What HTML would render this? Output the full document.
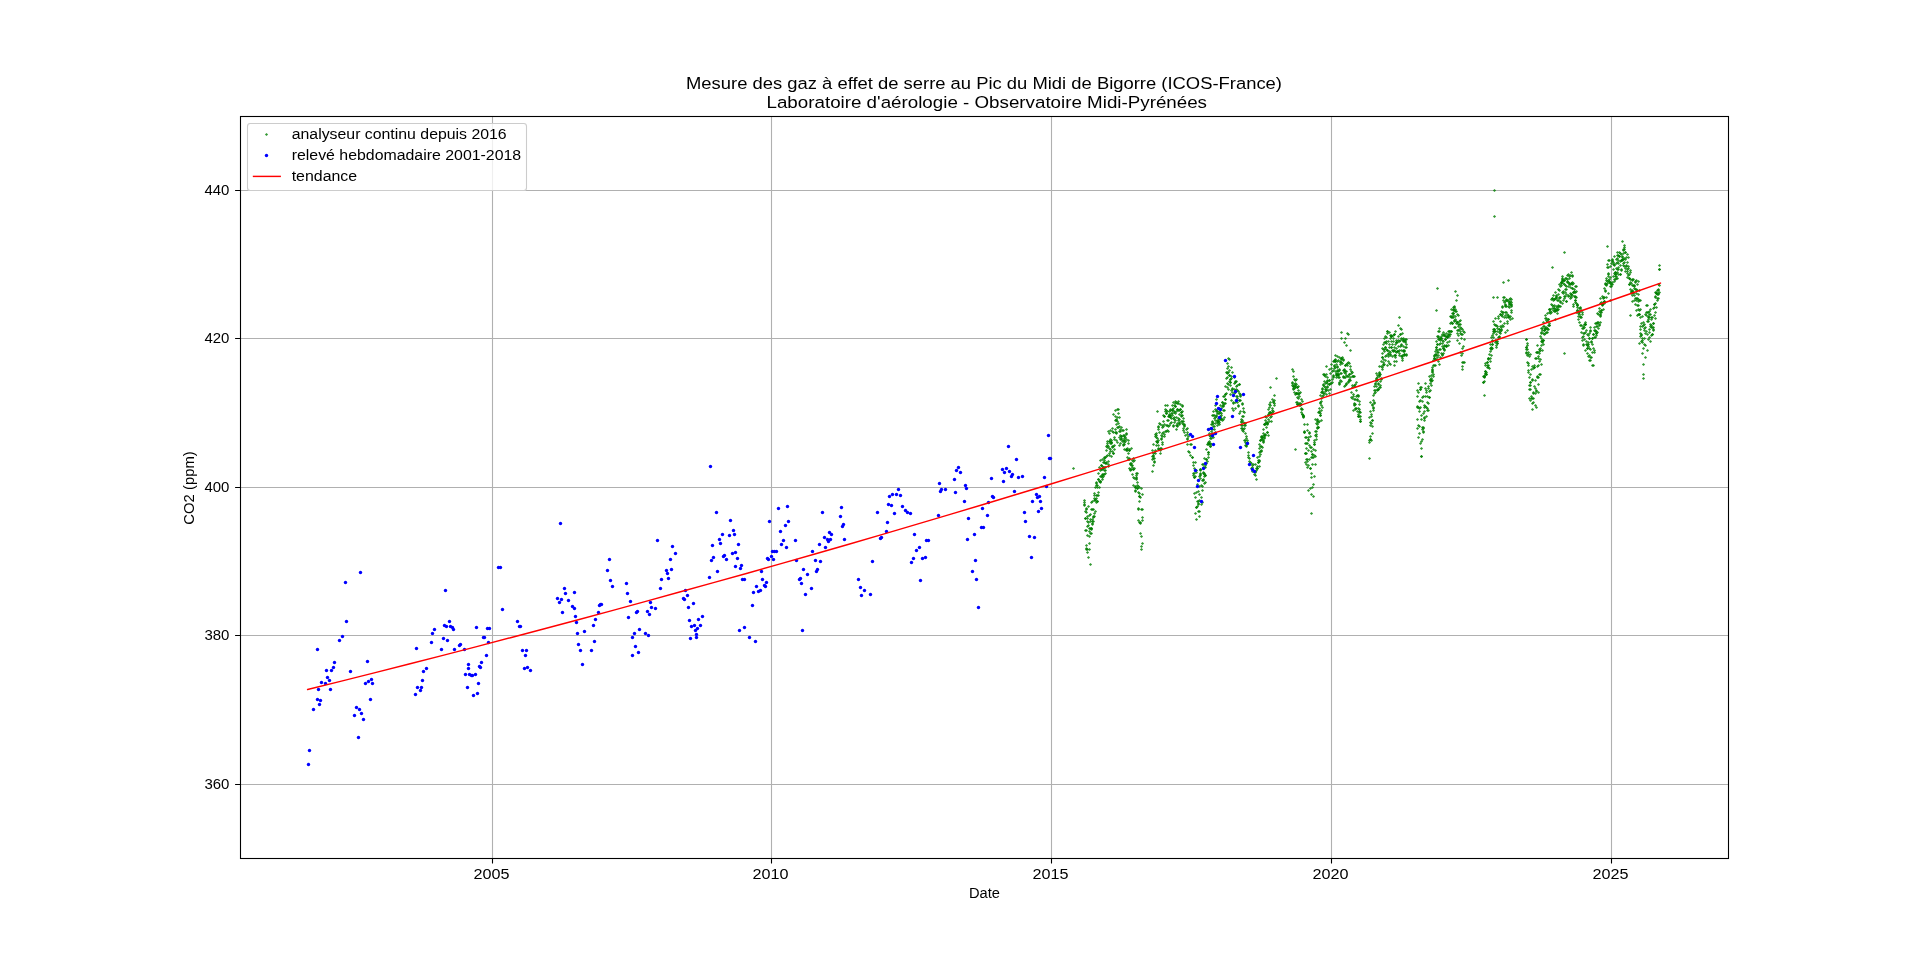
<!DOCTYPE html><html><head><meta charset="utf-8"><style>html,body{margin:0;padding:0;width:1920px;height:964px;overflow:hidden;background:#fff}</style></head><body><svg width="1920" height="964" viewBox="0 0 1920 964" style="position:absolute;left:0;top:0;will-change:transform"><rect width="1920" height="964" fill="#fff"/><path d="M492.5 116V858M771.5 116V858M1051.5 116V858M1331.5 116V858M1611.5 116V858M240 190.5H1728M240 338.5H1728M240 487.5H1728M240 635.5H1728M240 784.5H1728" stroke="#b0b0b0" stroke-width="1.1" fill="none"/><defs><path id="gm" d="M-1.6 0L0 -1.6L1.6 0L0 1.6Z"/></defs><g fill="#008000" fill-opacity="0.8"><use href="#gm" x="1084.5" y="500.5"/><use href="#gm" x="1084.5" y="502.5"/><use href="#gm" x="1084.5" y="504.5"/><use href="#gm" x="1084.5" y="505.5"/><use href="#gm" x="1085.5" y="511.5"/><use href="#gm" x="1085.5" y="518.5"/><use href="#gm" x="1085.5" y="530.5"/><use href="#gm" x="1085.5" y="518.5"/><use href="#gm" x="1086.5" y="509.5"/><use href="#gm" x="1086.5" y="508.5"/><use href="#gm" x="1086.5" y="530.5"/><use href="#gm" x="1086.5" y="512.5"/><use href="#gm" x="1086.5" y="549.5"/><use href="#gm" x="1086.5" y="548.5"/><use href="#gm" x="1087.5" y="549.5"/><use href="#gm" x="1087.5" y="535.5"/><use href="#gm" x="1087.5" y="526.5"/><use href="#gm" x="1087.5" y="521.5"/><use href="#gm" x="1087.5" y="518.5"/><use href="#gm" x="1087.5" y="516.5"/><use href="#gm" x="1088.5" y="525.5"/><use href="#gm" x="1088.5" y="506.5"/><use href="#gm" x="1088.5" y="522.5"/><use href="#gm" x="1089.5" y="543.5"/><use href="#gm" x="1089.5" y="536.5"/><use href="#gm" x="1089.5" y="515.5"/><use href="#gm" x="1089.5" y="531.5"/><use href="#gm" x="1089.5" y="528.5"/><use href="#gm" x="1090.5" y="533.5"/><use href="#gm" x="1090.5" y="521.5"/><use href="#gm" x="1090.5" y="514.5"/><use href="#gm" x="1090.5" y="519.5"/><use href="#gm" x="1090.5" y="528.5"/><use href="#gm" x="1091.5" y="529.5"/><use href="#gm" x="1091.5" y="502.5"/><use href="#gm" x="1091.5" y="509.5"/><use href="#gm" x="1091.5" y="533.5"/><use href="#gm" x="1091.5" y="528.5"/><use href="#gm" x="1091.5" y="528.5"/><use href="#gm" x="1092.5" y="521.5"/><use href="#gm" x="1092.5" y="523.5"/><use href="#gm" x="1092.5" y="501.5"/><use href="#gm" x="1092.5" y="519.5"/><use href="#gm" x="1092.5" y="524.5"/><use href="#gm" x="1092.5" y="509.5"/><use href="#gm" x="1093.5" y="517.5"/><use href="#gm" x="1093.5" y="516.5"/><use href="#gm" x="1093.5" y="509.5"/><use href="#gm" x="1093.5" y="521.5"/><use href="#gm" x="1094.5" y="500.5"/><use href="#gm" x="1094.5" y="516.5"/><use href="#gm" x="1094.5" y="498.5"/><use href="#gm" x="1094.5" y="513.5"/><use href="#gm" x="1094.5" y="495.5"/><use href="#gm" x="1094.5" y="493.5"/><use href="#gm" x="1095.5" y="511.5"/><use href="#gm" x="1095.5" y="499.5"/><use href="#gm" x="1095.5" y="500.5"/><use href="#gm" x="1095.5" y="487.5"/><use href="#gm" x="1096.5" y="495.5"/><use href="#gm" x="1096.5" y="502.5"/><use href="#gm" x="1096.5" y="482.5"/><use href="#gm" x="1096.5" y="483.5"/><use href="#gm" x="1096.5" y="498.5"/><use href="#gm" x="1096.5" y="485.5"/><use href="#gm" x="1097.5" y="501.5"/><use href="#gm" x="1097.5" y="487.5"/><use href="#gm" x="1097.5" y="485.5"/><use href="#gm" x="1097.5" y="495.5"/><use href="#gm" x="1097.5" y="501.5"/><use href="#gm" x="1098.5" y="495.5"/><use href="#gm" x="1098.5" y="492.5"/><use href="#gm" x="1098.5" y="479.5"/><use href="#gm" x="1098.5" y="473.5"/><use href="#gm" x="1098.5" y="479.5"/><use href="#gm" x="1099.5" y="487.5"/><use href="#gm" x="1099.5" y="481.5"/><use href="#gm" x="1099.5" y="467.5"/><use href="#gm" x="1100.5" y="476.5"/><use href="#gm" x="1100.5" y="470.5"/><use href="#gm" x="1100.5" y="481.5"/><use href="#gm" x="1100.5" y="481.5"/><use href="#gm" x="1100.5" y="482.5"/><use href="#gm" x="1100.5" y="460.5"/><use href="#gm" x="1101.5" y="465.5"/><use href="#gm" x="1101.5" y="465.5"/><use href="#gm" x="1101.5" y="469.5"/><use href="#gm" x="1101.5" y="476.5"/><use href="#gm" x="1102.5" y="475.5"/><use href="#gm" x="1102.5" y="459.5"/><use href="#gm" x="1102.5" y="466.5"/><use href="#gm" x="1102.5" y="477.5"/><use href="#gm" x="1102.5" y="474.5"/><use href="#gm" x="1102.5" y="479.5"/><use href="#gm" x="1102.5" y="469.5"/><use href="#gm" x="1103.5" y="476.5"/><use href="#gm" x="1103.5" y="467.5"/><use href="#gm" x="1103.5" y="462.5"/><use href="#gm" x="1103.5" y="468.5"/><use href="#gm" x="1103.5" y="474.5"/><use href="#gm" x="1104.5" y="470.5"/><use href="#gm" x="1104.5" y="458.5"/><use href="#gm" x="1104.5" y="474.5"/><use href="#gm" x="1104.5" y="462.5"/><use href="#gm" x="1104.5" y="457.5"/><use href="#gm" x="1104.5" y="460.5"/><use href="#gm" x="1104.5" y="467.5"/><use href="#gm" x="1105.5" y="473.5"/><use href="#gm" x="1105.5" y="463.5"/><use href="#gm" x="1105.5" y="470.5"/><use href="#gm" x="1105.5" y="457.5"/><use href="#gm" x="1105.5" y="467.5"/><use href="#gm" x="1106.5" y="450.5"/><use href="#gm" x="1106.5" y="462.5"/><use href="#gm" x="1106.5" y="463.5"/><use href="#gm" x="1106.5" y="446.5"/><use href="#gm" x="1106.5" y="456.5"/><use href="#gm" x="1107.5" y="447.5"/><use href="#gm" x="1107.5" y="441.5"/><use href="#gm" x="1107.5" y="443.5"/><use href="#gm" x="1107.5" y="455.5"/><use href="#gm" x="1107.5" y="445.5"/><use href="#gm" x="1108.5" y="466.5"/><use href="#gm" x="1108.5" y="461.5"/><use href="#gm" x="1108.5" y="431.5"/><use href="#gm" x="1108.5" y="464.5"/><use href="#gm" x="1108.5" y="446.5"/><use href="#gm" x="1109.5" y="455.5"/><use href="#gm" x="1109.5" y="453.5"/><use href="#gm" x="1109.5" y="441.5"/><use href="#gm" x="1109.5" y="441.5"/><use href="#gm" x="1109.5" y="448.5"/><use href="#gm" x="1109.5" y="433.5"/><use href="#gm" x="1110.5" y="451.5"/><use href="#gm" x="1110.5" y="449.5"/><use href="#gm" x="1110.5" y="443.5"/><use href="#gm" x="1110.5" y="439.5"/><use href="#gm" x="1110.5" y="430.5"/><use href="#gm" x="1111.5" y="443.5"/><use href="#gm" x="1111.5" y="456.5"/><use href="#gm" x="1111.5" y="440.5"/><use href="#gm" x="1111.5" y="442.5"/><use href="#gm" x="1111.5" y="442.5"/><use href="#gm" x="1112.5" y="446.5"/><use href="#gm" x="1112.5" y="447.5"/><use href="#gm" x="1112.5" y="428.5"/><use href="#gm" x="1112.5" y="451.5"/><use href="#gm" x="1112.5" y="431.5"/><use href="#gm" x="1113.5" y="432.5"/><use href="#gm" x="1113.5" y="453.5"/><use href="#gm" x="1113.5" y="453.5"/><use href="#gm" x="1113.5" y="414.5"/><use href="#gm" x="1113.5" y="446.5"/><use href="#gm" x="1114.5" y="445.5"/><use href="#gm" x="1114.5" y="449.5"/><use href="#gm" x="1114.5" y="437.5"/><use href="#gm" x="1114.5" y="439.5"/><use href="#gm" x="1115.5" y="429.5"/><use href="#gm" x="1115.5" y="420.5"/><use href="#gm" x="1115.5" y="432.5"/><use href="#gm" x="1115.5" y="416.5"/><use href="#gm" x="1115.5" y="410.5"/><use href="#gm" x="1116.5" y="440.5"/><use href="#gm" x="1116.5" y="433.5"/><use href="#gm" x="1116.5" y="420.5"/><use href="#gm" x="1116.5" y="432.5"/><use href="#gm" x="1116.5" y="419.5"/><use href="#gm" x="1116.5" y="424.5"/><use href="#gm" x="1117.5" y="427.5"/><use href="#gm" x="1117.5" y="421.5"/><use href="#gm" x="1117.5" y="417.5"/><use href="#gm" x="1117.5" y="442.5"/><use href="#gm" x="1117.5" y="409.5"/><use href="#gm" x="1118.5" y="427.5"/><use href="#gm" x="1118.5" y="423.5"/><use href="#gm" x="1118.5" y="413.5"/><use href="#gm" x="1118.5" y="409.5"/><use href="#gm" x="1119.5" y="431.5"/><use href="#gm" x="1119.5" y="426.5"/><use href="#gm" x="1119.5" y="437.5"/><use href="#gm" x="1119.5" y="417.5"/><use href="#gm" x="1119.5" y="445.5"/><use href="#gm" x="1120.5" y="431.5"/><use href="#gm" x="1120.5" y="439.5"/><use href="#gm" x="1120.5" y="443.5"/><use href="#gm" x="1120.5" y="435.5"/><use href="#gm" x="1120.5" y="429.5"/><use href="#gm" x="1121.5" y="427.5"/><use href="#gm" x="1121.5" y="436.5"/><use href="#gm" x="1121.5" y="439.5"/><use href="#gm" x="1121.5" y="436.5"/><use href="#gm" x="1121.5" y="438.5"/><use href="#gm" x="1122.5" y="430.5"/><use href="#gm" x="1122.5" y="441.5"/><use href="#gm" x="1123.5" y="430.5"/><use href="#gm" x="1123.5" y="440.5"/><use href="#gm" x="1123.5" y="444.5"/><use href="#gm" x="1123.5" y="445.5"/><use href="#gm" x="1123.5" y="435.5"/><use href="#gm" x="1124.5" y="442.5"/><use href="#gm" x="1124.5" y="438.5"/><use href="#gm" x="1124.5" y="435.5"/><use href="#gm" x="1124.5" y="436.5"/><use href="#gm" x="1124.5" y="440.5"/><use href="#gm" x="1124.5" y="449.5"/><use href="#gm" x="1124.5" y="444.5"/><use href="#gm" x="1125.5" y="441.5"/><use href="#gm" x="1125.5" y="437.5"/><use href="#gm" x="1126.5" y="429.5"/><use href="#gm" x="1126.5" y="434.5"/><use href="#gm" x="1126.5" y="450.5"/><use href="#gm" x="1126.5" y="433.5"/><use href="#gm" x="1126.5" y="449.5"/><use href="#gm" x="1126.5" y="439.5"/><use href="#gm" x="1126.5" y="449.5"/><use href="#gm" x="1127.5" y="448.5"/><use href="#gm" x="1127.5" y="450.5"/><use href="#gm" x="1127.5" y="457.5"/><use href="#gm" x="1128.5" y="443.5"/><use href="#gm" x="1128.5" y="440.5"/><use href="#gm" x="1128.5" y="459.5"/><use href="#gm" x="1128.5" y="453.5"/><use href="#gm" x="1129.5" y="458.5"/><use href="#gm" x="1129.5" y="459.5"/><use href="#gm" x="1129.5" y="450.5"/><use href="#gm" x="1129.5" y="449.5"/><use href="#gm" x="1129.5" y="450.5"/><use href="#gm" x="1129.5" y="468.5"/><use href="#gm" x="1130.5" y="463.5"/><use href="#gm" x="1130.5" y="470.5"/><use href="#gm" x="1130.5" y="469.5"/><use href="#gm" x="1130.5" y="464.5"/><use href="#gm" x="1131.5" y="469.5"/><use href="#gm" x="1131.5" y="448.5"/><use href="#gm" x="1131.5" y="463.5"/><use href="#gm" x="1131.5" y="465.5"/><use href="#gm" x="1132.5" y="467.5"/><use href="#gm" x="1132.5" y="474.5"/><use href="#gm" x="1132.5" y="460.5"/><use href="#gm" x="1132.5" y="465.5"/><use href="#gm" x="1133.5" y="485.5"/><use href="#gm" x="1133.5" y="477.5"/><use href="#gm" x="1133.5" y="461.5"/><use href="#gm" x="1133.5" y="469.5"/><use href="#gm" x="1133.5" y="458.5"/><use href="#gm" x="1133.5" y="469.5"/><use href="#gm" x="1134.5" y="468.5"/><use href="#gm" x="1134.5" y="460.5"/><use href="#gm" x="1134.5" y="478.5"/><use href="#gm" x="1135.5" y="487.5"/><use href="#gm" x="1135.5" y="491.5"/><use href="#gm" x="1135.5" y="486.5"/><use href="#gm" x="1135.5" y="490.5"/><use href="#gm" x="1135.5" y="487.5"/><use href="#gm" x="1136.5" y="478.5"/><use href="#gm" x="1136.5" y="475.5"/><use href="#gm" x="1136.5" y="477.5"/><use href="#gm" x="1136.5" y="473.5"/><use href="#gm" x="1136.5" y="479.5"/><use href="#gm" x="1137.5" y="473.5"/><use href="#gm" x="1137.5" y="488.5"/><use href="#gm" x="1137.5" y="488.5"/><use href="#gm" x="1137.5" y="482.5"/><use href="#gm" x="1137.5" y="485.5"/><use href="#gm" x="1138.5" y="508.5"/><use href="#gm" x="1138.5" y="509.5"/><use href="#gm" x="1138.5" y="520.5"/><use href="#gm" x="1138.5" y="492.5"/><use href="#gm" x="1138.5" y="486.5"/><use href="#gm" x="1139.5" y="487.5"/><use href="#gm" x="1139.5" y="493.5"/><use href="#gm" x="1139.5" y="496.5"/><use href="#gm" x="1139.5" y="496.5"/><use href="#gm" x="1139.5" y="522.5"/><use href="#gm" x="1139.5" y="501.5"/><use href="#gm" x="1140.5" y="523.5"/><use href="#gm" x="1140.5" y="522.5"/><use href="#gm" x="1140.5" y="533.5"/><use href="#gm" x="1140.5" y="497.5"/><use href="#gm" x="1141.5" y="509.5"/><use href="#gm" x="1141.5" y="488.5"/><use href="#gm" x="1141.5" y="546.5"/><use href="#gm" x="1141.5" y="549.5"/><use href="#gm" x="1141.5" y="536.5"/><use href="#gm" x="1142.5" y="517.5"/><use href="#gm" x="1142.5" y="520.5"/><use href="#gm" x="1142.5" y="494.5"/><use href="#gm" x="1142.5" y="509.5"/><use href="#gm" x="1142.5" y="543.5"/><use href="#gm" x="1152.5" y="459.5"/><use href="#gm" x="1152.5" y="456.5"/><use href="#gm" x="1152.5" y="471.5"/><use href="#gm" x="1152.5" y="450.5"/><use href="#gm" x="1153.5" y="465.5"/><use href="#gm" x="1153.5" y="458.5"/><use href="#gm" x="1153.5" y="456.5"/><use href="#gm" x="1153.5" y="453.5"/><use href="#gm" x="1153.5" y="455.5"/><use href="#gm" x="1153.5" y="444.5"/><use href="#gm" x="1154.5" y="461.5"/><use href="#gm" x="1154.5" y="458.5"/><use href="#gm" x="1154.5" y="462.5"/><use href="#gm" x="1154.5" y="452.5"/><use href="#gm" x="1155.5" y="453.5"/><use href="#gm" x="1155.5" y="436.5"/><use href="#gm" x="1155.5" y="450.5"/><use href="#gm" x="1155.5" y="434.5"/><use href="#gm" x="1156.5" y="437.5"/><use href="#gm" x="1156.5" y="433.5"/><use href="#gm" x="1156.5" y="435.5"/><use href="#gm" x="1156.5" y="441.5"/><use href="#gm" x="1156.5" y="445.5"/><use href="#gm" x="1157.5" y="438.5"/><use href="#gm" x="1157.5" y="441.5"/><use href="#gm" x="1157.5" y="442.5"/><use href="#gm" x="1157.5" y="442.5"/><use href="#gm" x="1158.5" y="440.5"/><use href="#gm" x="1158.5" y="426.5"/><use href="#gm" x="1158.5" y="427.5"/><use href="#gm" x="1158.5" y="429.5"/><use href="#gm" x="1158.5" y="445.5"/><use href="#gm" x="1158.5" y="449.5"/><use href="#gm" x="1158.5" y="448.5"/><use href="#gm" x="1159.5" y="449.5"/><use href="#gm" x="1159.5" y="423.5"/><use href="#gm" x="1159.5" y="432.5"/><use href="#gm" x="1160.5" y="450.5"/><use href="#gm" x="1160.5" y="424.5"/><use href="#gm" x="1160.5" y="453.5"/><use href="#gm" x="1160.5" y="448.5"/><use href="#gm" x="1161.5" y="439.5"/><use href="#gm" x="1161.5" y="435.5"/><use href="#gm" x="1161.5" y="438.5"/><use href="#gm" x="1161.5" y="448.5"/><use href="#gm" x="1162.5" y="425.5"/><use href="#gm" x="1162.5" y="427.5"/><use href="#gm" x="1162.5" y="433.5"/><use href="#gm" x="1162.5" y="442.5"/><use href="#gm" x="1162.5" y="444.5"/><use href="#gm" x="1162.5" y="436.5"/><use href="#gm" x="1163.5" y="426.5"/><use href="#gm" x="1163.5" y="415.5"/><use href="#gm" x="1163.5" y="432.5"/><use href="#gm" x="1163.5" y="421.5"/><use href="#gm" x="1164.5" y="416.5"/><use href="#gm" x="1164.5" y="424.5"/><use href="#gm" x="1164.5" y="416.5"/><use href="#gm" x="1164.5" y="436.5"/><use href="#gm" x="1164.5" y="434.5"/><use href="#gm" x="1165.5" y="411.5"/><use href="#gm" x="1165.5" y="405.5"/><use href="#gm" x="1165.5" y="409.5"/><use href="#gm" x="1165.5" y="431.5"/><use href="#gm" x="1166.5" y="410.5"/><use href="#gm" x="1166.5" y="425.5"/><use href="#gm" x="1166.5" y="431.5"/><use href="#gm" x="1166.5" y="413.5"/><use href="#gm" x="1166.5" y="413.5"/><use href="#gm" x="1167.5" y="430.5"/><use href="#gm" x="1167.5" y="405.5"/><use href="#gm" x="1167.5" y="425.5"/><use href="#gm" x="1167.5" y="411.5"/><use href="#gm" x="1167.5" y="420.5"/><use href="#gm" x="1168.5" y="431.5"/><use href="#gm" x="1168.5" y="420.5"/><use href="#gm" x="1168.5" y="426.5"/><use href="#gm" x="1168.5" y="416.5"/><use href="#gm" x="1169.5" y="425.5"/><use href="#gm" x="1169.5" y="416.5"/><use href="#gm" x="1169.5" y="411.5"/><use href="#gm" x="1169.5" y="416.5"/><use href="#gm" x="1169.5" y="415.5"/><use href="#gm" x="1169.5" y="414.5"/><use href="#gm" x="1170.5" y="417.5"/><use href="#gm" x="1170.5" y="423.5"/><use href="#gm" x="1170.5" y="410.5"/><use href="#gm" x="1170.5" y="415.5"/><use href="#gm" x="1170.5" y="409.5"/><use href="#gm" x="1170.5" y="416.5"/><use href="#gm" x="1171.5" y="418.5"/><use href="#gm" x="1171.5" y="413.5"/><use href="#gm" x="1171.5" y="422.5"/><use href="#gm" x="1172.5" y="410.5"/><use href="#gm" x="1172.5" y="410.5"/><use href="#gm" x="1172.5" y="415.5"/><use href="#gm" x="1172.5" y="405.5"/><use href="#gm" x="1172.5" y="409.5"/><use href="#gm" x="1172.5" y="413.5"/><use href="#gm" x="1173.5" y="402.5"/><use href="#gm" x="1173.5" y="426.5"/><use href="#gm" x="1173.5" y="425.5"/><use href="#gm" x="1173.5" y="408.5"/><use href="#gm" x="1173.5" y="418.5"/><use href="#gm" x="1174.5" y="417.5"/><use href="#gm" x="1174.5" y="412.5"/><use href="#gm" x="1174.5" y="405.5"/><use href="#gm" x="1174.5" y="422.5"/><use href="#gm" x="1174.5" y="419.5"/><use href="#gm" x="1174.5" y="411.5"/><use href="#gm" x="1175.5" y="413.5"/><use href="#gm" x="1175.5" y="403.5"/><use href="#gm" x="1175.5" y="406.5"/><use href="#gm" x="1175.5" y="420.5"/><use href="#gm" x="1175.5" y="406.5"/><use href="#gm" x="1175.5" y="401.5"/><use href="#gm" x="1176.5" y="417.5"/><use href="#gm" x="1176.5" y="402.5"/><use href="#gm" x="1176.5" y="411.5"/><use href="#gm" x="1176.5" y="429.5"/><use href="#gm" x="1176.5" y="425.5"/><use href="#gm" x="1177.5" y="425.5"/><use href="#gm" x="1177.5" y="423.5"/><use href="#gm" x="1177.5" y="426.5"/><use href="#gm" x="1177.5" y="409.5"/><use href="#gm" x="1177.5" y="403.5"/><use href="#gm" x="1177.5" y="409.5"/><use href="#gm" x="1178.5" y="403.5"/><use href="#gm" x="1178.5" y="401.5"/><use href="#gm" x="1178.5" y="410.5"/><use href="#gm" x="1178.5" y="420.5"/><use href="#gm" x="1178.5" y="418.5"/><use href="#gm" x="1179.5" y="414.5"/><use href="#gm" x="1179.5" y="422.5"/><use href="#gm" x="1179.5" y="424.5"/><use href="#gm" x="1179.5" y="410.5"/><use href="#gm" x="1179.5" y="423.5"/><use href="#gm" x="1179.5" y="419.5"/><use href="#gm" x="1180.5" y="404.5"/><use href="#gm" x="1180.5" y="409.5"/><use href="#gm" x="1180.5" y="409.5"/><use href="#gm" x="1181.5" y="412.5"/><use href="#gm" x="1181.5" y="412.5"/><use href="#gm" x="1181.5" y="421.5"/><use href="#gm" x="1181.5" y="416.5"/><use href="#gm" x="1181.5" y="415.5"/><use href="#gm" x="1182.5" y="421.5"/><use href="#gm" x="1182.5" y="406.5"/><use href="#gm" x="1182.5" y="405.5"/><use href="#gm" x="1182.5" y="423.5"/><use href="#gm" x="1182.5" y="411.5"/><use href="#gm" x="1182.5" y="415.5"/><use href="#gm" x="1183.5" y="418.5"/><use href="#gm" x="1183.5" y="421.5"/><use href="#gm" x="1183.5" y="430.5"/><use href="#gm" x="1183.5" y="428.5"/><use href="#gm" x="1183.5" y="424.5"/><use href="#gm" x="1184.5" y="432.5"/><use href="#gm" x="1184.5" y="424.5"/><use href="#gm" x="1184.5" y="426.5"/><use href="#gm" x="1184.5" y="425.5"/><use href="#gm" x="1185.5" y="435.5"/><use href="#gm" x="1186.5" y="429.5"/><use href="#gm" x="1187.5" y="438.5"/><use href="#gm" x="1187.5" y="444.5"/><use href="#gm" x="1187.5" y="432.5"/><use href="#gm" x="1187.5" y="428.5"/><use href="#gm" x="1187.5" y="439.5"/><use href="#gm" x="1187.5" y="434.5"/><use href="#gm" x="1188.5" y="451.5"/><use href="#gm" x="1188.5" y="436.5"/><use href="#gm" x="1189.5" y="452.5"/><use href="#gm" x="1190.5" y="455.5"/><use href="#gm" x="1190.5" y="444.5"/><use href="#gm" x="1191.5" y="444.5"/><use href="#gm" x="1192.5" y="457.5"/><use href="#gm" x="1192.5" y="457.5"/><use href="#gm" x="1193.5" y="473.5"/><use href="#gm" x="1193.5" y="475.5"/><use href="#gm" x="1193.5" y="465.5"/><use href="#gm" x="1193.5" y="462.5"/><use href="#gm" x="1194.5" y="473.5"/><use href="#gm" x="1194.5" y="468.5"/><use href="#gm" x="1194.5" y="493.5"/><use href="#gm" x="1194.5" y="477.5"/><use href="#gm" x="1194.5" y="477.5"/><use href="#gm" x="1195.5" y="462.5"/><use href="#gm" x="1195.5" y="476.5"/><use href="#gm" x="1195.5" y="497.5"/><use href="#gm" x="1195.5" y="513.5"/><use href="#gm" x="1196.5" y="507.5"/><use href="#gm" x="1196.5" y="492.5"/><use href="#gm" x="1196.5" y="519.5"/><use href="#gm" x="1196.5" y="472.5"/><use href="#gm" x="1196.5" y="507.5"/><use href="#gm" x="1196.5" y="470.5"/><use href="#gm" x="1197.5" y="501.5"/><use href="#gm" x="1197.5" y="484.5"/><use href="#gm" x="1197.5" y="506.5"/><use href="#gm" x="1198.5" y="511.5"/><use href="#gm" x="1198.5" y="491.5"/><use href="#gm" x="1198.5" y="501.5"/><use href="#gm" x="1198.5" y="503.5"/><use href="#gm" x="1198.5" y="480.5"/><use href="#gm" x="1198.5" y="504.5"/><use href="#gm" x="1199.5" y="516.5"/><use href="#gm" x="1199.5" y="500.5"/><use href="#gm" x="1199.5" y="486.5"/><use href="#gm" x="1199.5" y="494.5"/><use href="#gm" x="1199.5" y="511.5"/><use href="#gm" x="1199.5" y="476.5"/><use href="#gm" x="1200.5" y="474.5"/><use href="#gm" x="1200.5" y="473.5"/><use href="#gm" x="1200.5" y="470.5"/><use href="#gm" x="1200.5" y="478.5"/><use href="#gm" x="1200.5" y="469.5"/><use href="#gm" x="1200.5" y="469.5"/><use href="#gm" x="1200.5" y="475.5"/><use href="#gm" x="1201.5" y="485.5"/><use href="#gm" x="1201.5" y="504.5"/><use href="#gm" x="1201.5" y="497.5"/><use href="#gm" x="1202.5" y="490.5"/><use href="#gm" x="1202.5" y="480.5"/><use href="#gm" x="1202.5" y="502.5"/><use href="#gm" x="1202.5" y="464.5"/><use href="#gm" x="1202.5" y="486.5"/><use href="#gm" x="1203.5" y="479.5"/><use href="#gm" x="1203.5" y="480.5"/><use href="#gm" x="1203.5" y="467.5"/><use href="#gm" x="1203.5" y="473.5"/><use href="#gm" x="1203.5" y="472.5"/><use href="#gm" x="1203.5" y="464.5"/><use href="#gm" x="1204.5" y="473.5"/><use href="#gm" x="1204.5" y="476.5"/><use href="#gm" x="1204.5" y="467.5"/><use href="#gm" x="1204.5" y="483.5"/><use href="#gm" x="1204.5" y="474.5"/><use href="#gm" x="1204.5" y="458.5"/><use href="#gm" x="1205.5" y="475.5"/><use href="#gm" x="1205.5" y="482.5"/><use href="#gm" x="1205.5" y="465.5"/><use href="#gm" x="1205.5" y="475.5"/><use href="#gm" x="1205.5" y="467.5"/><use href="#gm" x="1206.5" y="459.5"/><use href="#gm" x="1206.5" y="459.5"/><use href="#gm" x="1206.5" y="449.5"/><use href="#gm" x="1206.5" y="463.5"/><use href="#gm" x="1207.5" y="444.5"/><use href="#gm" x="1207.5" y="461.5"/><use href="#gm" x="1208.5" y="457.5"/><use href="#gm" x="1208.5" y="444.5"/><use href="#gm" x="1208.5" y="452.5"/><use href="#gm" x="1208.5" y="454.5"/><use href="#gm" x="1208.5" y="452.5"/><use href="#gm" x="1208.5" y="443.5"/><use href="#gm" x="1208.5" y="442.5"/><use href="#gm" x="1209.5" y="443.5"/><use href="#gm" x="1209.5" y="435.5"/><use href="#gm" x="1209.5" y="441.5"/><use href="#gm" x="1209.5" y="433.5"/><use href="#gm" x="1209.5" y="444.5"/><use href="#gm" x="1210.5" y="446.5"/><use href="#gm" x="1210.5" y="446.5"/><use href="#gm" x="1210.5" y="443.5"/><use href="#gm" x="1210.5" y="428.5"/><use href="#gm" x="1210.5" y="428.5"/><use href="#gm" x="1210.5" y="436.5"/><use href="#gm" x="1210.5" y="438.5"/><use href="#gm" x="1211.5" y="444.5"/><use href="#gm" x="1211.5" y="424.5"/><use href="#gm" x="1211.5" y="431.5"/><use href="#gm" x="1211.5" y="438.5"/><use href="#gm" x="1211.5" y="435.5"/><use href="#gm" x="1212.5" y="429.5"/><use href="#gm" x="1212.5" y="415.5"/><use href="#gm" x="1212.5" y="421.5"/><use href="#gm" x="1212.5" y="424.5"/><use href="#gm" x="1212.5" y="422.5"/><use href="#gm" x="1212.5" y="436.5"/><use href="#gm" x="1212.5" y="433.5"/><use href="#gm" x="1213.5" y="437.5"/><use href="#gm" x="1213.5" y="415.5"/><use href="#gm" x="1213.5" y="423.5"/><use href="#gm" x="1213.5" y="434.5"/><use href="#gm" x="1213.5" y="411.5"/><use href="#gm" x="1213.5" y="426.5"/><use href="#gm" x="1214.5" y="429.5"/><use href="#gm" x="1214.5" y="426.5"/><use href="#gm" x="1214.5" y="415.5"/><use href="#gm" x="1214.5" y="418.5"/><use href="#gm" x="1215.5" y="420.5"/><use href="#gm" x="1215.5" y="423.5"/><use href="#gm" x="1215.5" y="432.5"/><use href="#gm" x="1215.5" y="405.5"/><use href="#gm" x="1215.5" y="417.5"/><use href="#gm" x="1215.5" y="409.5"/><use href="#gm" x="1216.5" y="416.5"/><use href="#gm" x="1216.5" y="399.5"/><use href="#gm" x="1216.5" y="410.5"/><use href="#gm" x="1216.5" y="415.5"/><use href="#gm" x="1216.5" y="411.5"/><use href="#gm" x="1217.5" y="425.5"/><use href="#gm" x="1217.5" y="411.5"/><use href="#gm" x="1217.5" y="422.5"/><use href="#gm" x="1217.5" y="420.5"/><use href="#gm" x="1217.5" y="421.5"/><use href="#gm" x="1217.5" y="413.5"/><use href="#gm" x="1218.5" y="413.5"/><use href="#gm" x="1218.5" y="423.5"/><use href="#gm" x="1218.5" y="408.5"/><use href="#gm" x="1218.5" y="421.5"/><use href="#gm" x="1218.5" y="418.5"/><use href="#gm" x="1218.5" y="421.5"/><use href="#gm" x="1219.5" y="422.5"/><use href="#gm" x="1219.5" y="424.5"/><use href="#gm" x="1219.5" y="408.5"/><use href="#gm" x="1219.5" y="413.5"/><use href="#gm" x="1219.5" y="419.5"/><use href="#gm" x="1219.5" y="411.5"/><use href="#gm" x="1220.5" y="418.5"/><use href="#gm" x="1220.5" y="419.5"/><use href="#gm" x="1220.5" y="405.5"/><use href="#gm" x="1220.5" y="412.5"/><use href="#gm" x="1220.5" y="416.5"/><use href="#gm" x="1220.5" y="418.5"/><use href="#gm" x="1221.5" y="415.5"/><use href="#gm" x="1221.5" y="419.5"/><use href="#gm" x="1221.5" y="418.5"/><use href="#gm" x="1221.5" y="413.5"/><use href="#gm" x="1221.5" y="408.5"/><use href="#gm" x="1222.5" y="402.5"/><use href="#gm" x="1222.5" y="420.5"/><use href="#gm" x="1222.5" y="402.5"/><use href="#gm" x="1222.5" y="406.5"/><use href="#gm" x="1223.5" y="405.5"/><use href="#gm" x="1223.5" y="406.5"/><use href="#gm" x="1223.5" y="410.5"/><use href="#gm" x="1223.5" y="396.5"/><use href="#gm" x="1223.5" y="404.5"/><use href="#gm" x="1223.5" y="419.5"/><use href="#gm" x="1224.5" y="403.5"/><use href="#gm" x="1224.5" y="417.5"/><use href="#gm" x="1224.5" y="410.5"/><use href="#gm" x="1224.5" y="396.5"/><use href="#gm" x="1225.5" y="394.5"/><use href="#gm" x="1225.5" y="386.5"/><use href="#gm" x="1225.5" y="403.5"/><use href="#gm" x="1225.5" y="399.5"/><use href="#gm" x="1225.5" y="394.5"/><use href="#gm" x="1225.5" y="399.5"/><use href="#gm" x="1226.5" y="378.5"/><use href="#gm" x="1226.5" y="372.5"/><use href="#gm" x="1226.5" y="393.5"/><use href="#gm" x="1227.5" y="387.5"/><use href="#gm" x="1227.5" y="373.5"/><use href="#gm" x="1227.5" y="383.5"/><use href="#gm" x="1227.5" y="368.5"/><use href="#gm" x="1227.5" y="363.5"/><use href="#gm" x="1227.5" y="377.5"/><use href="#gm" x="1227.5" y="372.5"/><use href="#gm" x="1228.5" y="366.5"/><use href="#gm" x="1228.5" y="389.5"/><use href="#gm" x="1228.5" y="384.5"/><use href="#gm" x="1228.5" y="358.5"/><use href="#gm" x="1228.5" y="372.5"/><use href="#gm" x="1229.5" y="370.5"/><use href="#gm" x="1229.5" y="375.5"/><use href="#gm" x="1229.5" y="359.5"/><use href="#gm" x="1229.5" y="375.5"/><use href="#gm" x="1229.5" y="381.5"/><use href="#gm" x="1230.5" y="379.5"/><use href="#gm" x="1230.5" y="385.5"/><use href="#gm" x="1230.5" y="382.5"/><use href="#gm" x="1230.5" y="382.5"/><use href="#gm" x="1230.5" y="379.5"/><use href="#gm" x="1230.5" y="394.5"/><use href="#gm" x="1231.5" y="367.5"/><use href="#gm" x="1231.5" y="390.5"/><use href="#gm" x="1231.5" y="378.5"/><use href="#gm" x="1231.5" y="400.5"/><use href="#gm" x="1231.5" y="376.5"/><use href="#gm" x="1232.5" y="392.5"/><use href="#gm" x="1232.5" y="389.5"/><use href="#gm" x="1232.5" y="372.5"/><use href="#gm" x="1232.5" y="408.5"/><use href="#gm" x="1232.5" y="388.5"/><use href="#gm" x="1233.5" y="403.5"/><use href="#gm" x="1233.5" y="395.5"/><use href="#gm" x="1233.5" y="402.5"/><use href="#gm" x="1233.5" y="410.5"/><use href="#gm" x="1234.5" y="377.5"/><use href="#gm" x="1234.5" y="393.5"/><use href="#gm" x="1234.5" y="389.5"/><use href="#gm" x="1234.5" y="383.5"/><use href="#gm" x="1235.5" y="381.5"/><use href="#gm" x="1235.5" y="402.5"/><use href="#gm" x="1235.5" y="408.5"/><use href="#gm" x="1235.5" y="391.5"/><use href="#gm" x="1235.5" y="382.5"/><use href="#gm" x="1235.5" y="392.5"/><use href="#gm" x="1236.5" y="389.5"/><use href="#gm" x="1236.5" y="381.5"/><use href="#gm" x="1236.5" y="386.5"/><use href="#gm" x="1236.5" y="396.5"/><use href="#gm" x="1237.5" y="398.5"/><use href="#gm" x="1237.5" y="402.5"/><use href="#gm" x="1237.5" y="390.5"/><use href="#gm" x="1237.5" y="385.5"/><use href="#gm" x="1237.5" y="396.5"/><use href="#gm" x="1238.5" y="391.5"/><use href="#gm" x="1238.5" y="406.5"/><use href="#gm" x="1238.5" y="405.5"/><use href="#gm" x="1239.5" y="384.5"/><use href="#gm" x="1239.5" y="413.5"/><use href="#gm" x="1239.5" y="384.5"/><use href="#gm" x="1239.5" y="400.5"/><use href="#gm" x="1239.5" y="393.5"/><use href="#gm" x="1239.5" y="400.5"/><use href="#gm" x="1240.5" y="395.5"/><use href="#gm" x="1240.5" y="396.5"/><use href="#gm" x="1240.5" y="394.5"/><use href="#gm" x="1240.5" y="411.5"/><use href="#gm" x="1240.5" y="400.5"/><use href="#gm" x="1241.5" y="421.5"/><use href="#gm" x="1241.5" y="422.5"/><use href="#gm" x="1241.5" y="425.5"/><use href="#gm" x="1241.5" y="428.5"/><use href="#gm" x="1241.5" y="419.5"/><use href="#gm" x="1242.5" y="425.5"/><use href="#gm" x="1242.5" y="428.5"/><use href="#gm" x="1242.5" y="403.5"/><use href="#gm" x="1242.5" y="416.5"/><use href="#gm" x="1242.5" y="430.5"/><use href="#gm" x="1242.5" y="420.5"/><use href="#gm" x="1242.5" y="404.5"/><use href="#gm" x="1243.5" y="416.5"/><use href="#gm" x="1243.5" y="422.5"/><use href="#gm" x="1243.5" y="429.5"/><use href="#gm" x="1243.5" y="431.5"/><use href="#gm" x="1243.5" y="408.5"/><use href="#gm" x="1243.5" y="411.5"/><use href="#gm" x="1244.5" y="428.5"/><use href="#gm" x="1244.5" y="423.5"/><use href="#gm" x="1244.5" y="425.5"/><use href="#gm" x="1244.5" y="412.5"/><use href="#gm" x="1244.5" y="440.5"/><use href="#gm" x="1245.5" y="433.5"/><use href="#gm" x="1245.5" y="423.5"/><use href="#gm" x="1245.5" y="440.5"/><use href="#gm" x="1245.5" y="425.5"/><use href="#gm" x="1245.5" y="445.5"/><use href="#gm" x="1245.5" y="442.5"/><use href="#gm" x="1246.5" y="446.5"/><use href="#gm" x="1246.5" y="443.5"/><use href="#gm" x="1246.5" y="445.5"/><use href="#gm" x="1246.5" y="436.5"/><use href="#gm" x="1246.5" y="438.5"/><use href="#gm" x="1247.5" y="440.5"/><use href="#gm" x="1247.5" y="443.5"/><use href="#gm" x="1247.5" y="442.5"/><use href="#gm" x="1248.5" y="452.5"/><use href="#gm" x="1248.5" y="457.5"/><use href="#gm" x="1248.5" y="455.5"/><use href="#gm" x="1249.5" y="458.5"/><use href="#gm" x="1249.5" y="461.5"/><use href="#gm" x="1250.5" y="462.5"/><use href="#gm" x="1251.5" y="463.5"/><use href="#gm" x="1251.5" y="468.5"/><use href="#gm" x="1252.5" y="471.5"/><use href="#gm" x="1252.5" y="465.5"/><use href="#gm" x="1252.5" y="469.5"/><use href="#gm" x="1252.5" y="467.5"/><use href="#gm" x="1253.5" y="464.5"/><use href="#gm" x="1254.5" y="474.5"/><use href="#gm" x="1254.5" y="471.5"/><use href="#gm" x="1255.5" y="472.5"/><use href="#gm" x="1255.5" y="471.5"/><use href="#gm" x="1255.5" y="475.5"/><use href="#gm" x="1255.5" y="464.5"/><use href="#gm" x="1256.5" y="479.5"/><use href="#gm" x="1256.5" y="468.5"/><use href="#gm" x="1256.5" y="470.5"/><use href="#gm" x="1257.5" y="468.5"/><use href="#gm" x="1257.5" y="468.5"/><use href="#gm" x="1257.5" y="466.5"/><use href="#gm" x="1257.5" y="457.5"/><use href="#gm" x="1258.5" y="460.5"/><use href="#gm" x="1258.5" y="462.5"/><use href="#gm" x="1258.5" y="462.5"/><use href="#gm" x="1259.5" y="452.5"/><use href="#gm" x="1259.5" y="466.5"/><use href="#gm" x="1259.5" y="461.5"/><use href="#gm" x="1259.5" y="456.5"/><use href="#gm" x="1259.5" y="460.5"/><use href="#gm" x="1259.5" y="444.5"/><use href="#gm" x="1259.5" y="448.5"/><use href="#gm" x="1260.5" y="440.5"/><use href="#gm" x="1260.5" y="451.5"/><use href="#gm" x="1260.5" y="440.5"/><use href="#gm" x="1260.5" y="446.5"/><use href="#gm" x="1260.5" y="454.5"/><use href="#gm" x="1261.5" y="451.5"/><use href="#gm" x="1261.5" y="437.5"/><use href="#gm" x="1261.5" y="450.5"/><use href="#gm" x="1261.5" y="439.5"/><use href="#gm" x="1261.5" y="446.5"/><use href="#gm" x="1261.5" y="436.5"/><use href="#gm" x="1262.5" y="437.5"/><use href="#gm" x="1262.5" y="436.5"/><use href="#gm" x="1262.5" y="437.5"/><use href="#gm" x="1262.5" y="447.5"/><use href="#gm" x="1262.5" y="439.5"/><use href="#gm" x="1263.5" y="429.5"/><use href="#gm" x="1263.5" y="441.5"/><use href="#gm" x="1263.5" y="440.5"/><use href="#gm" x="1263.5" y="442.5"/><use href="#gm" x="1263.5" y="433.5"/><use href="#gm" x="1264.5" y="435.5"/><use href="#gm" x="1264.5" y="435.5"/><use href="#gm" x="1264.5" y="424.5"/><use href="#gm" x="1264.5" y="424.5"/><use href="#gm" x="1264.5" y="437.5"/><use href="#gm" x="1264.5" y="438.5"/><use href="#gm" x="1265.5" y="434.5"/><use href="#gm" x="1265.5" y="416.5"/><use href="#gm" x="1265.5" y="423.5"/><use href="#gm" x="1265.5" y="420.5"/><use href="#gm" x="1265.5" y="424.5"/><use href="#gm" x="1265.5" y="435.5"/><use href="#gm" x="1266.5" y="427.5"/><use href="#gm" x="1266.5" y="417.5"/><use href="#gm" x="1266.5" y="422.5"/><use href="#gm" x="1267.5" y="432.5"/><use href="#gm" x="1267.5" y="432.5"/><use href="#gm" x="1267.5" y="423.5"/><use href="#gm" x="1267.5" y="422.5"/><use href="#gm" x="1267.5" y="424.5"/><use href="#gm" x="1267.5" y="423.5"/><use href="#gm" x="1268.5" y="415.5"/><use href="#gm" x="1268.5" y="419.5"/><use href="#gm" x="1268.5" y="435.5"/><use href="#gm" x="1268.5" y="414.5"/><use href="#gm" x="1268.5" y="409.5"/><use href="#gm" x="1269.5" y="412.5"/><use href="#gm" x="1269.5" y="421.5"/><use href="#gm" x="1269.5" y="413.5"/><use href="#gm" x="1269.5" y="407.5"/><use href="#gm" x="1269.5" y="404.5"/><use href="#gm" x="1270.5" y="405.5"/><use href="#gm" x="1270.5" y="402.5"/><use href="#gm" x="1270.5" y="412.5"/><use href="#gm" x="1270.5" y="412.5"/><use href="#gm" x="1270.5" y="417.5"/><use href="#gm" x="1271.5" y="421.5"/><use href="#gm" x="1271.5" y="416.5"/><use href="#gm" x="1271.5" y="413.5"/><use href="#gm" x="1272.5" y="408.5"/><use href="#gm" x="1272.5" y="399.5"/><use href="#gm" x="1272.5" y="412.5"/><use href="#gm" x="1272.5" y="410.5"/><use href="#gm" x="1273.5" y="401.5"/><use href="#gm" x="1273.5" y="402.5"/><use href="#gm" x="1273.5" y="411.5"/><use href="#gm" x="1274.5" y="395.5"/><use href="#gm" x="1274.5" y="400.5"/><use href="#gm" x="1274.5" y="405.5"/><use href="#gm" x="1274.5" y="403.5"/><use href="#gm" x="1292.5" y="383.5"/><use href="#gm" x="1292.5" y="369.5"/><use href="#gm" x="1292.5" y="385.5"/><use href="#gm" x="1292.5" y="382.5"/><use href="#gm" x="1293.5" y="371.5"/><use href="#gm" x="1293.5" y="386.5"/><use href="#gm" x="1293.5" y="388.5"/><use href="#gm" x="1293.5" y="376.5"/><use href="#gm" x="1293.5" y="389.5"/><use href="#gm" x="1293.5" y="386.5"/><use href="#gm" x="1294.5" y="384.5"/><use href="#gm" x="1294.5" y="392.5"/><use href="#gm" x="1294.5" y="379.5"/><use href="#gm" x="1294.5" y="388.5"/><use href="#gm" x="1295.5" y="385.5"/><use href="#gm" x="1295.5" y="386.5"/><use href="#gm" x="1295.5" y="394.5"/><use href="#gm" x="1295.5" y="380.5"/><use href="#gm" x="1295.5" y="383.5"/><use href="#gm" x="1295.5" y="387.5"/><use href="#gm" x="1296.5" y="384.5"/><use href="#gm" x="1296.5" y="393.5"/><use href="#gm" x="1296.5" y="379.5"/><use href="#gm" x="1296.5" y="402.5"/><use href="#gm" x="1296.5" y="393.5"/><use href="#gm" x="1296.5" y="393.5"/><use href="#gm" x="1297.5" y="387.5"/><use href="#gm" x="1297.5" y="404.5"/><use href="#gm" x="1297.5" y="387.5"/><use href="#gm" x="1297.5" y="393.5"/><use href="#gm" x="1297.5" y="397.5"/><use href="#gm" x="1297.5" y="402.5"/><use href="#gm" x="1297.5" y="404.5"/><use href="#gm" x="1298.5" y="390.5"/><use href="#gm" x="1298.5" y="404.5"/><use href="#gm" x="1298.5" y="393.5"/><use href="#gm" x="1298.5" y="394.5"/><use href="#gm" x="1298.5" y="386.5"/><use href="#gm" x="1298.5" y="398.5"/><use href="#gm" x="1299.5" y="403.5"/><use href="#gm" x="1299.5" y="393.5"/><use href="#gm" x="1299.5" y="396.5"/><use href="#gm" x="1299.5" y="405.5"/><use href="#gm" x="1300.5" y="405.5"/><use href="#gm" x="1300.5" y="403.5"/><use href="#gm" x="1300.5" y="392.5"/><use href="#gm" x="1301.5" y="412.5"/><use href="#gm" x="1301.5" y="399.5"/><use href="#gm" x="1301.5" y="409.5"/><use href="#gm" x="1301.5" y="408.5"/><use href="#gm" x="1301.5" y="404.5"/><use href="#gm" x="1302.5" y="401.5"/><use href="#gm" x="1302.5" y="414.5"/><use href="#gm" x="1302.5" y="414.5"/><use href="#gm" x="1302.5" y="409.5"/><use href="#gm" x="1303.5" y="415.5"/><use href="#gm" x="1303.5" y="416.5"/><use href="#gm" x="1303.5" y="416.5"/><use href="#gm" x="1303.5" y="417.5"/><use href="#gm" x="1303.5" y="416.5"/><use href="#gm" x="1304.5" y="432.5"/><use href="#gm" x="1304.5" y="424.5"/><use href="#gm" x="1304.5" y="432.5"/><use href="#gm" x="1304.5" y="431.5"/><use href="#gm" x="1305.5" y="443.5"/><use href="#gm" x="1305.5" y="437.5"/><use href="#gm" x="1305.5" y="453.5"/><use href="#gm" x="1305.5" y="453.5"/><use href="#gm" x="1305.5" y="462.5"/><use href="#gm" x="1306.5" y="459.5"/><use href="#gm" x="1306.5" y="437.5"/><use href="#gm" x="1306.5" y="448.5"/><use href="#gm" x="1306.5" y="464.5"/><use href="#gm" x="1306.5" y="453.5"/><use href="#gm" x="1306.5" y="443.5"/><use href="#gm" x="1307.5" y="424.5"/><use href="#gm" x="1307.5" y="459.5"/><use href="#gm" x="1307.5" y="443.5"/><use href="#gm" x="1307.5" y="430.5"/><use href="#gm" x="1307.5" y="461.5"/><use href="#gm" x="1307.5" y="467.5"/><use href="#gm" x="1308.5" y="490.5"/><use href="#gm" x="1308.5" y="439.5"/><use href="#gm" x="1308.5" y="437.5"/><use href="#gm" x="1308.5" y="450.5"/><use href="#gm" x="1308.5" y="465.5"/><use href="#gm" x="1308.5" y="440.5"/><use href="#gm" x="1309.5" y="459.5"/><use href="#gm" x="1309.5" y="432.5"/><use href="#gm" x="1309.5" y="445.5"/><use href="#gm" x="1309.5" y="433.5"/><use href="#gm" x="1310.5" y="488.5"/><use href="#gm" x="1310.5" y="436.5"/><use href="#gm" x="1310.5" y="468.5"/><use href="#gm" x="1310.5" y="468.5"/><use href="#gm" x="1310.5" y="447.5"/><use href="#gm" x="1311.5" y="473.5"/><use href="#gm" x="1311.5" y="451.5"/><use href="#gm" x="1311.5" y="477.5"/><use href="#gm" x="1311.5" y="457.5"/><use href="#gm" x="1311.5" y="494.5"/><use href="#gm" x="1311.5" y="447.5"/><use href="#gm" x="1312.5" y="487.5"/><use href="#gm" x="1312.5" y="454.5"/><use href="#gm" x="1312.5" y="457.5"/><use href="#gm" x="1312.5" y="454.5"/><use href="#gm" x="1312.5" y="464.5"/><use href="#gm" x="1313.5" y="496.5"/><use href="#gm" x="1313.5" y="449.5"/><use href="#gm" x="1313.5" y="484.5"/><use href="#gm" x="1313.5" y="457.5"/><use href="#gm" x="1314.5" y="476.5"/><use href="#gm" x="1314.5" y="442.5"/><use href="#gm" x="1314.5" y="440.5"/><use href="#gm" x="1314.5" y="444.5"/><use href="#gm" x="1314.5" y="455.5"/><use href="#gm" x="1314.5" y="444.5"/><use href="#gm" x="1315.5" y="431.5"/><use href="#gm" x="1315.5" y="464.5"/><use href="#gm" x="1315.5" y="456.5"/><use href="#gm" x="1315.5" y="419.5"/><use href="#gm" x="1315.5" y="450.5"/><use href="#gm" x="1315.5" y="435.5"/><use href="#gm" x="1316.5" y="436.5"/><use href="#gm" x="1316.5" y="423.5"/><use href="#gm" x="1316.5" y="434.5"/><use href="#gm" x="1316.5" y="439.5"/><use href="#gm" x="1316.5" y="431.5"/><use href="#gm" x="1317.5" y="428.5"/><use href="#gm" x="1317.5" y="420.5"/><use href="#gm" x="1317.5" y="427.5"/><use href="#gm" x="1317.5" y="424.5"/><use href="#gm" x="1317.5" y="419.5"/><use href="#gm" x="1317.5" y="421.5"/><use href="#gm" x="1318.5" y="427.5"/><use href="#gm" x="1318.5" y="412.5"/><use href="#gm" x="1318.5" y="427.5"/><use href="#gm" x="1318.5" y="422.5"/><use href="#gm" x="1319.5" y="412.5"/><use href="#gm" x="1319.5" y="421.5"/><use href="#gm" x="1319.5" y="408.5"/><use href="#gm" x="1319.5" y="411.5"/><use href="#gm" x="1320.5" y="415.5"/><use href="#gm" x="1320.5" y="413.5"/><use href="#gm" x="1320.5" y="403.5"/><use href="#gm" x="1320.5" y="415.5"/><use href="#gm" x="1320.5" y="402.5"/><use href="#gm" x="1320.5" y="395.5"/><use href="#gm" x="1321.5" y="420.5"/><use href="#gm" x="1321.5" y="401.5"/><use href="#gm" x="1321.5" y="392.5"/><use href="#gm" x="1321.5" y="410.5"/><use href="#gm" x="1321.5" y="405.5"/><use href="#gm" x="1321.5" y="398.5"/><use href="#gm" x="1322.5" y="391.5"/><use href="#gm" x="1322.5" y="392.5"/><use href="#gm" x="1322.5" y="407.5"/><use href="#gm" x="1322.5" y="388.5"/><use href="#gm" x="1322.5" y="396.5"/><use href="#gm" x="1322.5" y="389.5"/><use href="#gm" x="1323.5" y="395.5"/><use href="#gm" x="1323.5" y="393.5"/><use href="#gm" x="1323.5" y="385.5"/><use href="#gm" x="1323.5" y="374.5"/><use href="#gm" x="1323.5" y="384.5"/><use href="#gm" x="1324.5" y="375.5"/><use href="#gm" x="1324.5" y="386.5"/><use href="#gm" x="1324.5" y="381.5"/><use href="#gm" x="1324.5" y="374.5"/><use href="#gm" x="1324.5" y="393.5"/><use href="#gm" x="1325.5" y="383.5"/><use href="#gm" x="1325.5" y="376.5"/><use href="#gm" x="1325.5" y="389.5"/><use href="#gm" x="1325.5" y="387.5"/><use href="#gm" x="1325.5" y="391.5"/><use href="#gm" x="1326.5" y="394.5"/><use href="#gm" x="1326.5" y="382.5"/><use href="#gm" x="1326.5" y="389.5"/><use href="#gm" x="1326.5" y="366.5"/><use href="#gm" x="1326.5" y="374.5"/><use href="#gm" x="1326.5" y="390.5"/><use href="#gm" x="1327.5" y="386.5"/><use href="#gm" x="1327.5" y="380.5"/><use href="#gm" x="1327.5" y="381.5"/><use href="#gm" x="1327.5" y="383.5"/><use href="#gm" x="1327.5" y="387.5"/><use href="#gm" x="1327.5" y="377.5"/><use href="#gm" x="1328.5" y="390.5"/><use href="#gm" x="1329.5" y="369.5"/><use href="#gm" x="1329.5" y="393.5"/><use href="#gm" x="1329.5" y="384.5"/><use href="#gm" x="1329.5" y="384.5"/><use href="#gm" x="1329.5" y="380.5"/><use href="#gm" x="1329.5" y="380.5"/><use href="#gm" x="1330.5" y="389.5"/><use href="#gm" x="1330.5" y="383.5"/><use href="#gm" x="1330.5" y="373.5"/><use href="#gm" x="1331.5" y="383.5"/><use href="#gm" x="1331.5" y="368.5"/><use href="#gm" x="1331.5" y="364.5"/><use href="#gm" x="1332.5" y="379.5"/><use href="#gm" x="1332.5" y="382.5"/><use href="#gm" x="1332.5" y="371.5"/><use href="#gm" x="1333.5" y="376.5"/><use href="#gm" x="1333.5" y="361.5"/><use href="#gm" x="1333.5" y="370.5"/><use href="#gm" x="1333.5" y="377.5"/><use href="#gm" x="1333.5" y="375.5"/><use href="#gm" x="1334.5" y="368.5"/><use href="#gm" x="1334.5" y="365.5"/><use href="#gm" x="1334.5" y="360.5"/><use href="#gm" x="1334.5" y="366.5"/><use href="#gm" x="1334.5" y="361.5"/><use href="#gm" x="1335.5" y="355.5"/><use href="#gm" x="1335.5" y="360.5"/><use href="#gm" x="1335.5" y="371.5"/><use href="#gm" x="1335.5" y="359.5"/><use href="#gm" x="1335.5" y="367.5"/><use href="#gm" x="1335.5" y="361.5"/><use href="#gm" x="1336.5" y="374.5"/><use href="#gm" x="1336.5" y="375.5"/><use href="#gm" x="1336.5" y="373.5"/><use href="#gm" x="1336.5" y="364.5"/><use href="#gm" x="1336.5" y="377.5"/><use href="#gm" x="1337.5" y="366.5"/><use href="#gm" x="1337.5" y="375.5"/><use href="#gm" x="1337.5" y="367.5"/><use href="#gm" x="1337.5" y="356.5"/><use href="#gm" x="1337.5" y="371.5"/><use href="#gm" x="1337.5" y="370.5"/><use href="#gm" x="1337.5" y="374.5"/><use href="#gm" x="1338.5" y="375.5"/><use href="#gm" x="1338.5" y="377.5"/><use href="#gm" x="1338.5" y="371.5"/><use href="#gm" x="1338.5" y="360.5"/><use href="#gm" x="1338.5" y="374.5"/><use href="#gm" x="1338.5" y="374.5"/><use href="#gm" x="1339.5" y="383.5"/><use href="#gm" x="1339.5" y="377.5"/><use href="#gm" x="1339.5" y="369.5"/><use href="#gm" x="1339.5" y="357.5"/><use href="#gm" x="1339.5" y="384.5"/><use href="#gm" x="1339.5" y="370.5"/><use href="#gm" x="1339.5" y="382.5"/><use href="#gm" x="1340.5" y="362.5"/><use href="#gm" x="1340.5" y="361.5"/><use href="#gm" x="1340.5" y="364.5"/><use href="#gm" x="1340.5" y="380.5"/><use href="#gm" x="1340.5" y="373.5"/><use href="#gm" x="1341.5" y="373.5"/><use href="#gm" x="1341.5" y="359.5"/><use href="#gm" x="1341.5" y="358.5"/><use href="#gm" x="1341.5" y="362.5"/><use href="#gm" x="1341.5" y="381.5"/><use href="#gm" x="1341.5" y="358.5"/><use href="#gm" x="1342.5" y="357.5"/><use href="#gm" x="1342.5" y="363.5"/><use href="#gm" x="1343.5" y="370.5"/><use href="#gm" x="1343.5" y="376.5"/><use href="#gm" x="1343.5" y="360.5"/><use href="#gm" x="1343.5" y="377.5"/><use href="#gm" x="1343.5" y="359.5"/><use href="#gm" x="1344.5" y="372.5"/><use href="#gm" x="1344.5" y="370.5"/><use href="#gm" x="1344.5" y="386.5"/><use href="#gm" x="1344.5" y="369.5"/><use href="#gm" x="1344.5" y="377.5"/><use href="#gm" x="1345.5" y="371.5"/><use href="#gm" x="1345.5" y="385.5"/><use href="#gm" x="1345.5" y="365.5"/><use href="#gm" x="1345.5" y="373.5"/><use href="#gm" x="1345.5" y="377.5"/><use href="#gm" x="1345.5" y="365.5"/><use href="#gm" x="1346.5" y="383.5"/><use href="#gm" x="1346.5" y="371.5"/><use href="#gm" x="1346.5" y="375.5"/><use href="#gm" x="1346.5" y="384.5"/><use href="#gm" x="1346.5" y="364.5"/><use href="#gm" x="1347.5" y="363.5"/><use href="#gm" x="1347.5" y="365.5"/><use href="#gm" x="1347.5" y="376.5"/><use href="#gm" x="1348.5" y="382.5"/><use href="#gm" x="1348.5" y="362.5"/><use href="#gm" x="1348.5" y="376.5"/><use href="#gm" x="1348.5" y="381.5"/><use href="#gm" x="1349.5" y="379.5"/><use href="#gm" x="1349.5" y="374.5"/><use href="#gm" x="1349.5" y="380.5"/><use href="#gm" x="1349.5" y="363.5"/><use href="#gm" x="1349.5" y="374.5"/><use href="#gm" x="1350.5" y="366.5"/><use href="#gm" x="1350.5" y="369.5"/><use href="#gm" x="1350.5" y="377.5"/><use href="#gm" x="1350.5" y="380.5"/><use href="#gm" x="1351.5" y="371.5"/><use href="#gm" x="1351.5" y="373.5"/><use href="#gm" x="1351.5" y="392.5"/><use href="#gm" x="1351.5" y="397.5"/><use href="#gm" x="1352.5" y="387.5"/><use href="#gm" x="1352.5" y="376.5"/><use href="#gm" x="1352.5" y="372.5"/><use href="#gm" x="1352.5" y="398.5"/><use href="#gm" x="1352.5" y="385.5"/><use href="#gm" x="1353.5" y="396.5"/><use href="#gm" x="1353.5" y="394.5"/><use href="#gm" x="1353.5" y="376.5"/><use href="#gm" x="1353.5" y="410.5"/><use href="#gm" x="1353.5" y="376.5"/><use href="#gm" x="1354.5" y="403.5"/><use href="#gm" x="1354.5" y="399.5"/><use href="#gm" x="1354.5" y="405.5"/><use href="#gm" x="1354.5" y="404.5"/><use href="#gm" x="1354.5" y="386.5"/><use href="#gm" x="1354.5" y="376.5"/><use href="#gm" x="1354.5" y="385.5"/><use href="#gm" x="1355.5" y="384.5"/><use href="#gm" x="1355.5" y="404.5"/><use href="#gm" x="1355.5" y="399.5"/><use href="#gm" x="1355.5" y="408.5"/><use href="#gm" x="1355.5" y="409.5"/><use href="#gm" x="1356.5" y="396.5"/><use href="#gm" x="1356.5" y="408.5"/><use href="#gm" x="1356.5" y="382.5"/><use href="#gm" x="1356.5" y="390.5"/><use href="#gm" x="1357.5" y="395.5"/><use href="#gm" x="1357.5" y="399.5"/><use href="#gm" x="1357.5" y="411.5"/><use href="#gm" x="1357.5" y="400.5"/><use href="#gm" x="1358.5" y="395.5"/><use href="#gm" x="1358.5" y="408.5"/><use href="#gm" x="1358.5" y="416.5"/><use href="#gm" x="1358.5" y="414.5"/><use href="#gm" x="1358.5" y="396.5"/><use href="#gm" x="1358.5" y="416.5"/><use href="#gm" x="1359.5" y="401.5"/><use href="#gm" x="1359.5" y="411.5"/><use href="#gm" x="1359.5" y="404.5"/><use href="#gm" x="1359.5" y="409.5"/><use href="#gm" x="1359.5" y="416.5"/><use href="#gm" x="1359.5" y="412.5"/><use href="#gm" x="1360.5" y="412.5"/><use href="#gm" x="1360.5" y="421.5"/><use href="#gm" x="1360.5" y="416.5"/><use href="#gm" x="1360.5" y="419.5"/><use href="#gm" x="1360.5" y="421.5"/><use href="#gm" x="1369.5" y="442.5"/><use href="#gm" x="1369.5" y="417.5"/><use href="#gm" x="1369.5" y="440.5"/><use href="#gm" x="1370.5" y="439.5"/><use href="#gm" x="1370.5" y="411.5"/><use href="#gm" x="1370.5" y="402.5"/><use href="#gm" x="1370.5" y="439.5"/><use href="#gm" x="1370.5" y="425.5"/><use href="#gm" x="1370.5" y="436.5"/><use href="#gm" x="1370.5" y="422.5"/><use href="#gm" x="1371.5" y="414.5"/><use href="#gm" x="1371.5" y="416.5"/><use href="#gm" x="1371.5" y="423.5"/><use href="#gm" x="1371.5" y="440.5"/><use href="#gm" x="1372.5" y="420.5"/><use href="#gm" x="1372.5" y="404.5"/><use href="#gm" x="1372.5" y="433.5"/><use href="#gm" x="1372.5" y="405.5"/><use href="#gm" x="1372.5" y="426.5"/><use href="#gm" x="1372.5" y="420.5"/><use href="#gm" x="1373.5" y="408.5"/><use href="#gm" x="1373.5" y="400.5"/><use href="#gm" x="1373.5" y="395.5"/><use href="#gm" x="1373.5" y="407.5"/><use href="#gm" x="1373.5" y="410.5"/><use href="#gm" x="1374.5" y="386.5"/><use href="#gm" x="1374.5" y="390.5"/><use href="#gm" x="1374.5" y="402.5"/><use href="#gm" x="1374.5" y="403.5"/><use href="#gm" x="1374.5" y="393.5"/><use href="#gm" x="1375.5" y="390.5"/><use href="#gm" x="1375.5" y="383.5"/><use href="#gm" x="1375.5" y="392.5"/><use href="#gm" x="1375.5" y="384.5"/><use href="#gm" x="1376.5" y="386.5"/><use href="#gm" x="1376.5" y="379.5"/><use href="#gm" x="1376.5" y="378.5"/><use href="#gm" x="1376.5" y="381.5"/><use href="#gm" x="1376.5" y="373.5"/><use href="#gm" x="1377.5" y="375.5"/><use href="#gm" x="1377.5" y="389.5"/><use href="#gm" x="1377.5" y="390.5"/><use href="#gm" x="1377.5" y="377.5"/><use href="#gm" x="1377.5" y="380.5"/><use href="#gm" x="1378.5" y="389.5"/><use href="#gm" x="1378.5" y="389.5"/><use href="#gm" x="1378.5" y="383.5"/><use href="#gm" x="1378.5" y="384.5"/><use href="#gm" x="1379.5" y="375.5"/><use href="#gm" x="1379.5" y="376.5"/><use href="#gm" x="1379.5" y="374.5"/><use href="#gm" x="1379.5" y="372.5"/><use href="#gm" x="1379.5" y="373.5"/><use href="#gm" x="1379.5" y="366.5"/><use href="#gm" x="1379.5" y="387.5"/><use href="#gm" x="1380.5" y="381.5"/><use href="#gm" x="1380.5" y="387.5"/><use href="#gm" x="1380.5" y="385.5"/><use href="#gm" x="1380.5" y="374.5"/><use href="#gm" x="1381.5" y="379.5"/><use href="#gm" x="1381.5" y="378.5"/><use href="#gm" x="1381.5" y="366.5"/><use href="#gm" x="1381.5" y="361.5"/><use href="#gm" x="1382.5" y="357.5"/><use href="#gm" x="1382.5" y="367.5"/><use href="#gm" x="1382.5" y="357.5"/><use href="#gm" x="1382.5" y="369.5"/><use href="#gm" x="1382.5" y="348.5"/><use href="#gm" x="1382.5" y="353.5"/><use href="#gm" x="1383.5" y="349.5"/><use href="#gm" x="1383.5" y="362.5"/><use href="#gm" x="1383.5" y="365.5"/><use href="#gm" x="1383.5" y="359.5"/><use href="#gm" x="1383.5" y="364.5"/><use href="#gm" x="1383.5" y="344.5"/><use href="#gm" x="1384.5" y="364.5"/><use href="#gm" x="1384.5" y="342.5"/><use href="#gm" x="1384.5" y="338.5"/><use href="#gm" x="1384.5" y="349.5"/><use href="#gm" x="1384.5" y="351.5"/><use href="#gm" x="1385.5" y="336.5"/><use href="#gm" x="1385.5" y="347.5"/><use href="#gm" x="1385.5" y="360.5"/><use href="#gm" x="1385.5" y="356.5"/><use href="#gm" x="1385.5" y="347.5"/><use href="#gm" x="1385.5" y="342.5"/><use href="#gm" x="1386.5" y="343.5"/><use href="#gm" x="1386.5" y="341.5"/><use href="#gm" x="1386.5" y="337.5"/><use href="#gm" x="1386.5" y="355.5"/><use href="#gm" x="1386.5" y="349.5"/><use href="#gm" x="1387.5" y="350.5"/><use href="#gm" x="1387.5" y="333.5"/><use href="#gm" x="1387.5" y="331.5"/><use href="#gm" x="1387.5" y="365.5"/><use href="#gm" x="1387.5" y="331.5"/><use href="#gm" x="1387.5" y="350.5"/><use href="#gm" x="1388.5" y="354.5"/><use href="#gm" x="1388.5" y="361.5"/><use href="#gm" x="1388.5" y="356.5"/><use href="#gm" x="1388.5" y="341.5"/><use href="#gm" x="1388.5" y="353.5"/><use href="#gm" x="1389.5" y="347.5"/><use href="#gm" x="1389.5" y="332.5"/><use href="#gm" x="1389.5" y="363.5"/><use href="#gm" x="1389.5" y="351.5"/><use href="#gm" x="1389.5" y="344.5"/><use href="#gm" x="1390.5" y="352.5"/><use href="#gm" x="1390.5" y="354.5"/><use href="#gm" x="1390.5" y="364.5"/><use href="#gm" x="1390.5" y="355.5"/><use href="#gm" x="1390.5" y="335.5"/><use href="#gm" x="1390.5" y="338.5"/><use href="#gm" x="1391.5" y="347.5"/><use href="#gm" x="1391.5" y="347.5"/><use href="#gm" x="1391.5" y="335.5"/><use href="#gm" x="1391.5" y="336.5"/><use href="#gm" x="1391.5" y="341.5"/><use href="#gm" x="1391.5" y="336.5"/><use href="#gm" x="1391.5" y="336.5"/><use href="#gm" x="1392.5" y="350.5"/><use href="#gm" x="1392.5" y="356.5"/><use href="#gm" x="1392.5" y="344.5"/><use href="#gm" x="1393.5" y="335.5"/><use href="#gm" x="1393.5" y="341.5"/><use href="#gm" x="1393.5" y="350.5"/><use href="#gm" x="1393.5" y="351.5"/><use href="#gm" x="1393.5" y="338.5"/><use href="#gm" x="1394.5" y="361.5"/><use href="#gm" x="1394.5" y="334.5"/><use href="#gm" x="1394.5" y="350.5"/><use href="#gm" x="1394.5" y="334.5"/><use href="#gm" x="1394.5" y="365.5"/><use href="#gm" x="1394.5" y="347.5"/><use href="#gm" x="1394.5" y="355.5"/><use href="#gm" x="1395.5" y="355.5"/><use href="#gm" x="1395.5" y="355.5"/><use href="#gm" x="1395.5" y="357.5"/><use href="#gm" x="1395.5" y="331.5"/><use href="#gm" x="1395.5" y="351.5"/><use href="#gm" x="1395.5" y="344.5"/><use href="#gm" x="1396.5" y="361.5"/><use href="#gm" x="1396.5" y="348.5"/><use href="#gm" x="1396.5" y="342.5"/><use href="#gm" x="1396.5" y="342.5"/><use href="#gm" x="1396.5" y="352.5"/><use href="#gm" x="1396.5" y="340.5"/><use href="#gm" x="1397.5" y="342.5"/><use href="#gm" x="1397.5" y="351.5"/><use href="#gm" x="1397.5" y="351.5"/><use href="#gm" x="1398.5" y="325.5"/><use href="#gm" x="1398.5" y="336.5"/><use href="#gm" x="1398.5" y="346.5"/><use href="#gm" x="1398.5" y="351.5"/><use href="#gm" x="1398.5" y="340.5"/><use href="#gm" x="1399.5" y="350.5"/><use href="#gm" x="1399.5" y="341.5"/><use href="#gm" x="1399.5" y="355.5"/><use href="#gm" x="1399.5" y="353.5"/><use href="#gm" x="1400.5" y="334.5"/><use href="#gm" x="1400.5" y="334.5"/><use href="#gm" x="1400.5" y="346.5"/><use href="#gm" x="1400.5" y="328.5"/><use href="#gm" x="1400.5" y="340.5"/><use href="#gm" x="1401.5" y="356.5"/><use href="#gm" x="1401.5" y="345.5"/><use href="#gm" x="1401.5" y="344.5"/><use href="#gm" x="1401.5" y="350.5"/><use href="#gm" x="1401.5" y="338.5"/><use href="#gm" x="1401.5" y="329.5"/><use href="#gm" x="1402.5" y="356.5"/><use href="#gm" x="1402.5" y="333.5"/><use href="#gm" x="1402.5" y="358.5"/><use href="#gm" x="1402.5" y="339.5"/><use href="#gm" x="1402.5" y="355.5"/><use href="#gm" x="1402.5" y="360.5"/><use href="#gm" x="1403.5" y="350.5"/><use href="#gm" x="1403.5" y="338.5"/><use href="#gm" x="1403.5" y="341.5"/><use href="#gm" x="1403.5" y="346.5"/><use href="#gm" x="1403.5" y="351.5"/><use href="#gm" x="1403.5" y="340.5"/><use href="#gm" x="1404.5" y="355.5"/><use href="#gm" x="1404.5" y="340.5"/><use href="#gm" x="1404.5" y="351.5"/><use href="#gm" x="1404.5" y="354.5"/><use href="#gm" x="1404.5" y="350.5"/><use href="#gm" x="1404.5" y="354.5"/><use href="#gm" x="1405.5" y="347.5"/><use href="#gm" x="1405.5" y="341.5"/><use href="#gm" x="1405.5" y="342.5"/><use href="#gm" x="1405.5" y="339.5"/><use href="#gm" x="1406.5" y="344.5"/><use href="#gm" x="1406.5" y="347.5"/><use href="#gm" x="1406.5" y="339.5"/><use href="#gm" x="1406.5" y="355.5"/><use href="#gm" x="1406.5" y="354.5"/><use href="#gm" x="1417.5" y="419.5"/><use href="#gm" x="1417.5" y="407.5"/><use href="#gm" x="1417.5" y="406.5"/><use href="#gm" x="1417.5" y="390.5"/><use href="#gm" x="1417.5" y="428.5"/><use href="#gm" x="1417.5" y="396.5"/><use href="#gm" x="1418.5" y="383.5"/><use href="#gm" x="1418.5" y="392.5"/><use href="#gm" x="1418.5" y="425.5"/><use href="#gm" x="1418.5" y="437.5"/><use href="#gm" x="1418.5" y="407.5"/><use href="#gm" x="1419.5" y="408.5"/><use href="#gm" x="1419.5" y="426.5"/><use href="#gm" x="1419.5" y="401.5"/><use href="#gm" x="1419.5" y="411.5"/><use href="#gm" x="1419.5" y="433.5"/><use href="#gm" x="1420.5" y="389.5"/><use href="#gm" x="1420.5" y="407.5"/><use href="#gm" x="1420.5" y="400.5"/><use href="#gm" x="1420.5" y="389.5"/><use href="#gm" x="1420.5" y="443.5"/><use href="#gm" x="1420.5" y="387.5"/><use href="#gm" x="1421.5" y="456.5"/><use href="#gm" x="1421.5" y="441.5"/><use href="#gm" x="1421.5" y="419.5"/><use href="#gm" x="1421.5" y="387.5"/><use href="#gm" x="1421.5" y="415.5"/><use href="#gm" x="1421.5" y="456.5"/><use href="#gm" x="1421.5" y="448.5"/><use href="#gm" x="1422.5" y="401.5"/><use href="#gm" x="1422.5" y="427.5"/><use href="#gm" x="1422.5" y="439.5"/><use href="#gm" x="1422.5" y="429.5"/><use href="#gm" x="1422.5" y="397.5"/><use href="#gm" x="1423.5" y="396.5"/><use href="#gm" x="1423.5" y="431.5"/><use href="#gm" x="1423.5" y="427.5"/><use href="#gm" x="1423.5" y="432.5"/><use href="#gm" x="1423.5" y="413.5"/><use href="#gm" x="1423.5" y="428.5"/><use href="#gm" x="1424.5" y="420.5"/><use href="#gm" x="1424.5" y="418.5"/><use href="#gm" x="1424.5" y="411.5"/><use href="#gm" x="1424.5" y="417.5"/><use href="#gm" x="1424.5" y="405.5"/><use href="#gm" x="1424.5" y="407.5"/><use href="#gm" x="1425.5" y="396.5"/><use href="#gm" x="1425.5" y="406.5"/><use href="#gm" x="1425.5" y="388.5"/><use href="#gm" x="1425.5" y="383.5"/><use href="#gm" x="1426.5" y="416.5"/><use href="#gm" x="1426.5" y="390.5"/><use href="#gm" x="1426.5" y="407.5"/><use href="#gm" x="1426.5" y="392.5"/><use href="#gm" x="1427.5" y="402.5"/><use href="#gm" x="1427.5" y="410.5"/><use href="#gm" x="1427.5" y="396.5"/><use href="#gm" x="1427.5" y="408.5"/><use href="#gm" x="1428.5" y="386.5"/><use href="#gm" x="1428.5" y="388.5"/><use href="#gm" x="1428.5" y="410.5"/><use href="#gm" x="1428.5" y="403.5"/><use href="#gm" x="1429.5" y="397.5"/><use href="#gm" x="1429.5" y="391.5"/><use href="#gm" x="1429.5" y="376.5"/><use href="#gm" x="1429.5" y="397.5"/><use href="#gm" x="1430.5" y="383.5"/><use href="#gm" x="1430.5" y="380.5"/><use href="#gm" x="1430.5" y="390.5"/><use href="#gm" x="1430.5" y="379.5"/><use href="#gm" x="1431.5" y="385.5"/><use href="#gm" x="1431.5" y="380.5"/><use href="#gm" x="1431.5" y="378.5"/><use href="#gm" x="1431.5" y="381.5"/><use href="#gm" x="1431.5" y="375.5"/><use href="#gm" x="1432.5" y="369.5"/><use href="#gm" x="1432.5" y="372.5"/><use href="#gm" x="1432.5" y="380.5"/><use href="#gm" x="1432.5" y="370.5"/><use href="#gm" x="1432.5" y="367.5"/><use href="#gm" x="1432.5" y="371.5"/><use href="#gm" x="1433.5" y="365.5"/><use href="#gm" x="1433.5" y="376.5"/><use href="#gm" x="1433.5" y="360.5"/><use href="#gm" x="1433.5" y="374.5"/><use href="#gm" x="1434.5" y="365.5"/><use href="#gm" x="1434.5" y="355.5"/><use href="#gm" x="1434.5" y="358.5"/><use href="#gm" x="1434.5" y="356.5"/><use href="#gm" x="1434.5" y="358.5"/><use href="#gm" x="1435.5" y="365.5"/><use href="#gm" x="1435.5" y="359.5"/><use href="#gm" x="1435.5" y="351.5"/><use href="#gm" x="1435.5" y="354.5"/><use href="#gm" x="1436.5" y="347.5"/><use href="#gm" x="1436.5" y="354.5"/><use href="#gm" x="1436.5" y="347.5"/><use href="#gm" x="1436.5" y="359.5"/><use href="#gm" x="1436.5" y="349.5"/><use href="#gm" x="1436.5" y="355.5"/><use href="#gm" x="1436.5" y="341.5"/><use href="#gm" x="1437.5" y="344.5"/><use href="#gm" x="1437.5" y="352.5"/><use href="#gm" x="1437.5" y="350.5"/><use href="#gm" x="1437.5" y="344.5"/><use href="#gm" x="1437.5" y="336.5"/><use href="#gm" x="1437.5" y="357.5"/><use href="#gm" x="1438.5" y="352.5"/><use href="#gm" x="1438.5" y="331.5"/><use href="#gm" x="1438.5" y="355.5"/><use href="#gm" x="1438.5" y="361.5"/><use href="#gm" x="1438.5" y="337.5"/><use href="#gm" x="1438.5" y="336.5"/><use href="#gm" x="1438.5" y="339.5"/><use href="#gm" x="1439.5" y="344.5"/><use href="#gm" x="1439.5" y="328.5"/><use href="#gm" x="1439.5" y="364.5"/><use href="#gm" x="1439.5" y="349.5"/><use href="#gm" x="1439.5" y="331.5"/><use href="#gm" x="1439.5" y="339.5"/><use href="#gm" x="1440.5" y="343.5"/><use href="#gm" x="1440.5" y="349.5"/><use href="#gm" x="1440.5" y="338.5"/><use href="#gm" x="1440.5" y="340.5"/><use href="#gm" x="1440.5" y="357.5"/><use href="#gm" x="1440.5" y="338.5"/><use href="#gm" x="1441.5" y="338.5"/><use href="#gm" x="1441.5" y="336.5"/><use href="#gm" x="1441.5" y="338.5"/><use href="#gm" x="1441.5" y="353.5"/><use href="#gm" x="1442.5" y="334.5"/><use href="#gm" x="1442.5" y="340.5"/><use href="#gm" x="1442.5" y="346.5"/><use href="#gm" x="1442.5" y="343.5"/><use href="#gm" x="1442.5" y="354.5"/><use href="#gm" x="1442.5" y="355.5"/><use href="#gm" x="1443.5" y="348.5"/><use href="#gm" x="1443.5" y="335.5"/><use href="#gm" x="1443.5" y="348.5"/><use href="#gm" x="1443.5" y="332.5"/><use href="#gm" x="1443.5" y="353.5"/><use href="#gm" x="1443.5" y="341.5"/><use href="#gm" x="1444.5" y="334.5"/><use href="#gm" x="1444.5" y="345.5"/><use href="#gm" x="1444.5" y="349.5"/><use href="#gm" x="1444.5" y="350.5"/><use href="#gm" x="1444.5" y="346.5"/><use href="#gm" x="1444.5" y="335.5"/><use href="#gm" x="1445.5" y="336.5"/><use href="#gm" x="1445.5" y="339.5"/><use href="#gm" x="1445.5" y="339.5"/><use href="#gm" x="1446.5" y="346.5"/><use href="#gm" x="1446.5" y="336.5"/><use href="#gm" x="1446.5" y="333.5"/><use href="#gm" x="1446.5" y="345.5"/><use href="#gm" x="1446.5" y="346.5"/><use href="#gm" x="1447.5" y="337.5"/><use href="#gm" x="1447.5" y="336.5"/><use href="#gm" x="1447.5" y="342.5"/><use href="#gm" x="1447.5" y="337.5"/><use href="#gm" x="1448.5" y="331.5"/><use href="#gm" x="1448.5" y="345.5"/><use href="#gm" x="1448.5" y="334.5"/><use href="#gm" x="1448.5" y="335.5"/><use href="#gm" x="1449.5" y="331.5"/><use href="#gm" x="1449.5" y="341.5"/><use href="#gm" x="1449.5" y="331.5"/><use href="#gm" x="1449.5" y="336.5"/><use href="#gm" x="1449.5" y="334.5"/><use href="#gm" x="1450.5" y="323.5"/><use href="#gm" x="1450.5" y="331.5"/><use href="#gm" x="1450.5" y="334.5"/><use href="#gm" x="1450.5" y="316.5"/><use href="#gm" x="1451.5" y="316.5"/><use href="#gm" x="1451.5" y="317.5"/><use href="#gm" x="1451.5" y="331.5"/><use href="#gm" x="1451.5" y="322.5"/><use href="#gm" x="1451.5" y="309.5"/><use href="#gm" x="1451.5" y="331.5"/><use href="#gm" x="1452.5" y="323.5"/><use href="#gm" x="1452.5" y="313.5"/><use href="#gm" x="1452.5" y="317.5"/><use href="#gm" x="1452.5" y="323.5"/><use href="#gm" x="1453.5" y="309.5"/><use href="#gm" x="1453.5" y="313.5"/><use href="#gm" x="1453.5" y="317.5"/><use href="#gm" x="1453.5" y="313.5"/><use href="#gm" x="1453.5" y="310.5"/><use href="#gm" x="1453.5" y="307.5"/><use href="#gm" x="1453.5" y="315.5"/><use href="#gm" x="1454.5" y="306.5"/><use href="#gm" x="1454.5" y="307.5"/><use href="#gm" x="1454.5" y="321.5"/><use href="#gm" x="1454.5" y="327.5"/><use href="#gm" x="1454.5" y="320.5"/><use href="#gm" x="1454.5" y="310.5"/><use href="#gm" x="1455.5" y="327.5"/><use href="#gm" x="1455.5" y="309.5"/><use href="#gm" x="1455.5" y="311.5"/><use href="#gm" x="1455.5" y="319.5"/><use href="#gm" x="1455.5" y="316.5"/><use href="#gm" x="1456.5" y="300.5"/><use href="#gm" x="1456.5" y="323.5"/><use href="#gm" x="1456.5" y="321.5"/><use href="#gm" x="1456.5" y="311.5"/><use href="#gm" x="1457.5" y="333.5"/><use href="#gm" x="1457.5" y="330.5"/><use href="#gm" x="1457.5" y="322.5"/><use href="#gm" x="1457.5" y="322.5"/><use href="#gm" x="1457.5" y="340.5"/><use href="#gm" x="1457.5" y="314.5"/><use href="#gm" x="1458.5" y="324.5"/><use href="#gm" x="1458.5" y="326.5"/><use href="#gm" x="1458.5" y="315.5"/><use href="#gm" x="1458.5" y="335.5"/><use href="#gm" x="1458.5" y="330.5"/><use href="#gm" x="1459.5" y="324.5"/><use href="#gm" x="1459.5" y="343.5"/><use href="#gm" x="1459.5" y="321.5"/><use href="#gm" x="1459.5" y="329.5"/><use href="#gm" x="1460.5" y="333.5"/><use href="#gm" x="1460.5" y="331.5"/><use href="#gm" x="1460.5" y="324.5"/><use href="#gm" x="1460.5" y="327.5"/><use href="#gm" x="1460.5" y="352.5"/><use href="#gm" x="1460.5" y="320.5"/><use href="#gm" x="1461.5" y="334.5"/><use href="#gm" x="1461.5" y="338.5"/><use href="#gm" x="1461.5" y="328.5"/><use href="#gm" x="1461.5" y="355.5"/><use href="#gm" x="1462.5" y="334.5"/><use href="#gm" x="1462.5" y="362.5"/><use href="#gm" x="1462.5" y="329.5"/><use href="#gm" x="1462.5" y="366.5"/><use href="#gm" x="1462.5" y="348.5"/><use href="#gm" x="1462.5" y="353.5"/><use href="#gm" x="1463.5" y="346.5"/><use href="#gm" x="1463.5" y="362.5"/><use href="#gm" x="1463.5" y="331.5"/><use href="#gm" x="1464.5" y="362.5"/><use href="#gm" x="1464.5" y="332.5"/><use href="#gm" x="1464.5" y="339.5"/><use href="#gm" x="1483.5" y="382.5"/><use href="#gm" x="1483.5" y="382.5"/><use href="#gm" x="1483.5" y="376.5"/><use href="#gm" x="1484.5" y="376.5"/><use href="#gm" x="1484.5" y="376.5"/><use href="#gm" x="1484.5" y="381.5"/><use href="#gm" x="1484.5" y="376.5"/><use href="#gm" x="1484.5" y="377.5"/><use href="#gm" x="1485.5" y="371.5"/><use href="#gm" x="1485.5" y="365.5"/><use href="#gm" x="1485.5" y="373.5"/><use href="#gm" x="1485.5" y="371.5"/><use href="#gm" x="1485.5" y="363.5"/><use href="#gm" x="1485.5" y="374.5"/><use href="#gm" x="1486.5" y="374.5"/><use href="#gm" x="1486.5" y="374.5"/><use href="#gm" x="1486.5" y="372.5"/><use href="#gm" x="1487.5" y="367.5"/><use href="#gm" x="1487.5" y="362.5"/><use href="#gm" x="1487.5" y="362.5"/><use href="#gm" x="1487.5" y="365.5"/><use href="#gm" x="1488.5" y="358.5"/><use href="#gm" x="1488.5" y="359.5"/><use href="#gm" x="1488.5" y="358.5"/><use href="#gm" x="1488.5" y="365.5"/><use href="#gm" x="1488.5" y="367.5"/><use href="#gm" x="1489.5" y="368.5"/><use href="#gm" x="1489.5" y="354.5"/><use href="#gm" x="1490.5" y="351.5"/><use href="#gm" x="1490.5" y="361.5"/><use href="#gm" x="1490.5" y="348.5"/><use href="#gm" x="1490.5" y="358.5"/><use href="#gm" x="1490.5" y="344.5"/><use href="#gm" x="1491.5" y="348.5"/><use href="#gm" x="1491.5" y="347.5"/><use href="#gm" x="1491.5" y="349.5"/><use href="#gm" x="1491.5" y="337.5"/><use href="#gm" x="1491.5" y="355.5"/><use href="#gm" x="1492.5" y="348.5"/><use href="#gm" x="1492.5" y="335.5"/><use href="#gm" x="1492.5" y="344.5"/><use href="#gm" x="1492.5" y="344.5"/><use href="#gm" x="1492.5" y="341.5"/><use href="#gm" x="1492.5" y="340.5"/><use href="#gm" x="1493.5" y="337.5"/><use href="#gm" x="1493.5" y="333.5"/><use href="#gm" x="1493.5" y="331.5"/><use href="#gm" x="1493.5" y="321.5"/><use href="#gm" x="1493.5" y="329.5"/><use href="#gm" x="1494.5" y="324.5"/><use href="#gm" x="1494.5" y="329.5"/><use href="#gm" x="1494.5" y="331.5"/><use href="#gm" x="1494.5" y="331.5"/><use href="#gm" x="1494.5" y="329.5"/><use href="#gm" x="1495.5" y="340.5"/><use href="#gm" x="1495.5" y="325.5"/><use href="#gm" x="1495.5" y="331.5"/><use href="#gm" x="1495.5" y="342.5"/><use href="#gm" x="1495.5" y="318.5"/><use href="#gm" x="1496.5" y="347.5"/><use href="#gm" x="1496.5" y="334.5"/><use href="#gm" x="1496.5" y="345.5"/><use href="#gm" x="1496.5" y="341.5"/><use href="#gm" x="1496.5" y="325.5"/><use href="#gm" x="1497.5" y="331.5"/><use href="#gm" x="1497.5" y="341.5"/><use href="#gm" x="1497.5" y="328.5"/><use href="#gm" x="1497.5" y="343.5"/><use href="#gm" x="1497.5" y="343.5"/><use href="#gm" x="1497.5" y="326.5"/><use href="#gm" x="1498.5" y="316.5"/><use href="#gm" x="1498.5" y="337.5"/><use href="#gm" x="1498.5" y="318.5"/><use href="#gm" x="1499.5" y="329.5"/><use href="#gm" x="1499.5" y="332.5"/><use href="#gm" x="1499.5" y="337.5"/><use href="#gm" x="1499.5" y="336.5"/><use href="#gm" x="1499.5" y="329.5"/><use href="#gm" x="1500.5" y="314.5"/><use href="#gm" x="1500.5" y="314.5"/><use href="#gm" x="1500.5" y="333.5"/><use href="#gm" x="1500.5" y="331.5"/><use href="#gm" x="1500.5" y="326.5"/><use href="#gm" x="1500.5" y="321.5"/><use href="#gm" x="1501.5" y="330.5"/><use href="#gm" x="1501.5" y="327.5"/><use href="#gm" x="1501.5" y="311.5"/><use href="#gm" x="1501.5" y="329.5"/><use href="#gm" x="1501.5" y="315.5"/><use href="#gm" x="1502.5" y="325.5"/><use href="#gm" x="1502.5" y="312.5"/><use href="#gm" x="1502.5" y="307.5"/><use href="#gm" x="1502.5" y="314.5"/><use href="#gm" x="1502.5" y="316.5"/><use href="#gm" x="1502.5" y="306.5"/><use href="#gm" x="1503.5" y="312.5"/><use href="#gm" x="1503.5" y="326.5"/><use href="#gm" x="1503.5" y="297.5"/><use href="#gm" x="1503.5" y="300.5"/><use href="#gm" x="1504.5" y="323.5"/><use href="#gm" x="1504.5" y="317.5"/><use href="#gm" x="1504.5" y="297.5"/><use href="#gm" x="1504.5" y="302.5"/><use href="#gm" x="1505.5" y="305.5"/><use href="#gm" x="1505.5" y="301.5"/><use href="#gm" x="1505.5" y="332.5"/><use href="#gm" x="1505.5" y="312.5"/><use href="#gm" x="1505.5" y="315.5"/><use href="#gm" x="1505.5" y="304.5"/><use href="#gm" x="1505.5" y="306.5"/><use href="#gm" x="1506.5" y="306.5"/><use href="#gm" x="1506.5" y="299.5"/><use href="#gm" x="1506.5" y="317.5"/><use href="#gm" x="1506.5" y="300.5"/><use href="#gm" x="1506.5" y="312.5"/><use href="#gm" x="1507.5" y="330.5"/><use href="#gm" x="1507.5" y="314.5"/><use href="#gm" x="1507.5" y="323.5"/><use href="#gm" x="1507.5" y="300.5"/><use href="#gm" x="1507.5" y="321.5"/><use href="#gm" x="1508.5" y="316.5"/><use href="#gm" x="1508.5" y="315.5"/><use href="#gm" x="1508.5" y="306.5"/><use href="#gm" x="1508.5" y="301.5"/><use href="#gm" x="1508.5" y="317.5"/><use href="#gm" x="1509.5" y="302.5"/><use href="#gm" x="1509.5" y="307.5"/><use href="#gm" x="1509.5" y="304.5"/><use href="#gm" x="1509.5" y="303.5"/><use href="#gm" x="1509.5" y="317.5"/><use href="#gm" x="1509.5" y="299.5"/><use href="#gm" x="1510.5" y="298.5"/><use href="#gm" x="1510.5" y="304.5"/><use href="#gm" x="1510.5" y="319.5"/><use href="#gm" x="1510.5" y="316.5"/><use href="#gm" x="1510.5" y="301.5"/><use href="#gm" x="1511.5" y="302.5"/><use href="#gm" x="1511.5" y="305.5"/><use href="#gm" x="1511.5" y="310.5"/><use href="#gm" x="1511.5" y="299.5"/><use href="#gm" x="1511.5" y="304.5"/><use href="#gm" x="1511.5" y="312.5"/><use href="#gm" x="1511.5" y="306.5"/><use href="#gm" x="1512.5" y="318.5"/><use href="#gm" x="1526.5" y="339.5"/><use href="#gm" x="1526.5" y="347.5"/><use href="#gm" x="1526.5" y="352.5"/><use href="#gm" x="1526.5" y="339.5"/><use href="#gm" x="1526.5" y="353.5"/><use href="#gm" x="1526.5" y="347.5"/><use href="#gm" x="1526.5" y="349.5"/><use href="#gm" x="1527.5" y="349.5"/><use href="#gm" x="1527.5" y="345.5"/><use href="#gm" x="1527.5" y="355.5"/><use href="#gm" x="1527.5" y="362.5"/><use href="#gm" x="1527.5" y="343.5"/><use href="#gm" x="1528.5" y="363.5"/><use href="#gm" x="1528.5" y="370.5"/><use href="#gm" x="1528.5" y="352.5"/><use href="#gm" x="1528.5" y="372.5"/><use href="#gm" x="1528.5" y="365.5"/><use href="#gm" x="1528.5" y="354.5"/><use href="#gm" x="1529.5" y="385.5"/><use href="#gm" x="1529.5" y="389.5"/><use href="#gm" x="1529.5" y="377.5"/><use href="#gm" x="1529.5" y="356.5"/><use href="#gm" x="1529.5" y="398.5"/><use href="#gm" x="1530.5" y="385.5"/><use href="#gm" x="1530.5" y="382.5"/><use href="#gm" x="1530.5" y="374.5"/><use href="#gm" x="1530.5" y="354.5"/><use href="#gm" x="1530.5" y="389.5"/><use href="#gm" x="1530.5" y="400.5"/><use href="#gm" x="1530.5" y="382.5"/><use href="#gm" x="1531.5" y="398.5"/><use href="#gm" x="1531.5" y="396.5"/><use href="#gm" x="1531.5" y="369.5"/><use href="#gm" x="1532.5" y="409.5"/><use href="#gm" x="1532.5" y="380.5"/><use href="#gm" x="1532.5" y="366.5"/><use href="#gm" x="1532.5" y="379.5"/><use href="#gm" x="1532.5" y="403.5"/><use href="#gm" x="1532.5" y="398.5"/><use href="#gm" x="1533.5" y="368.5"/><use href="#gm" x="1533.5" y="393.5"/><use href="#gm" x="1533.5" y="402.5"/><use href="#gm" x="1533.5" y="398.5"/><use href="#gm" x="1533.5" y="392.5"/><use href="#gm" x="1534.5" y="367.5"/><use href="#gm" x="1534.5" y="367.5"/><use href="#gm" x="1534.5" y="386.5"/><use href="#gm" x="1534.5" y="365.5"/><use href="#gm" x="1535.5" y="388.5"/><use href="#gm" x="1535.5" y="358.5"/><use href="#gm" x="1535.5" y="393.5"/><use href="#gm" x="1535.5" y="405.5"/><use href="#gm" x="1535.5" y="380.5"/><use href="#gm" x="1536.5" y="407.5"/><use href="#gm" x="1536.5" y="358.5"/><use href="#gm" x="1536.5" y="390.5"/><use href="#gm" x="1536.5" y="352.5"/><use href="#gm" x="1536.5" y="391.5"/><use href="#gm" x="1537.5" y="352.5"/><use href="#gm" x="1537.5" y="377.5"/><use href="#gm" x="1537.5" y="366.5"/><use href="#gm" x="1537.5" y="352.5"/><use href="#gm" x="1537.5" y="376.5"/><use href="#gm" x="1537.5" y="345.5"/><use href="#gm" x="1538.5" y="365.5"/><use href="#gm" x="1538.5" y="358.5"/><use href="#gm" x="1538.5" y="392.5"/><use href="#gm" x="1538.5" y="384.5"/><use href="#gm" x="1538.5" y="377.5"/><use href="#gm" x="1538.5" y="356.5"/><use href="#gm" x="1539.5" y="374.5"/><use href="#gm" x="1539.5" y="351.5"/><use href="#gm" x="1539.5" y="361.5"/><use href="#gm" x="1539.5" y="349.5"/><use href="#gm" x="1539.5" y="353.5"/><use href="#gm" x="1540.5" y="350.5"/><use href="#gm" x="1540.5" y="348.5"/><use href="#gm" x="1540.5" y="374.5"/><use href="#gm" x="1540.5" y="359.5"/><use href="#gm" x="1540.5" y="336.5"/><use href="#gm" x="1541.5" y="338.5"/><use href="#gm" x="1541.5" y="332.5"/><use href="#gm" x="1541.5" y="364.5"/><use href="#gm" x="1541.5" y="328.5"/><use href="#gm" x="1541.5" y="341.5"/><use href="#gm" x="1541.5" y="333.5"/><use href="#gm" x="1541.5" y="345.5"/><use href="#gm" x="1542.5" y="342.5"/><use href="#gm" x="1542.5" y="328.5"/><use href="#gm" x="1542.5" y="340.5"/><use href="#gm" x="1542.5" y="330.5"/><use href="#gm" x="1542.5" y="341.5"/><use href="#gm" x="1542.5" y="350.5"/><use href="#gm" x="1543.5" y="333.5"/><use href="#gm" x="1543.5" y="340.5"/><use href="#gm" x="1543.5" y="326.5"/><use href="#gm" x="1543.5" y="322.5"/><use href="#gm" x="1543.5" y="340.5"/><use href="#gm" x="1543.5" y="344.5"/><use href="#gm" x="1544.5" y="326.5"/><use href="#gm" x="1544.5" y="330.5"/><use href="#gm" x="1544.5" y="330.5"/><use href="#gm" x="1544.5" y="334.5"/><use href="#gm" x="1545.5" y="333.5"/><use href="#gm" x="1545.5" y="315.5"/><use href="#gm" x="1545.5" y="318.5"/><use href="#gm" x="1545.5" y="328.5"/><use href="#gm" x="1545.5" y="329.5"/><use href="#gm" x="1545.5" y="328.5"/><use href="#gm" x="1546.5" y="327.5"/><use href="#gm" x="1546.5" y="320.5"/><use href="#gm" x="1546.5" y="332.5"/><use href="#gm" x="1546.5" y="318.5"/><use href="#gm" x="1547.5" y="328.5"/><use href="#gm" x="1547.5" y="332.5"/><use href="#gm" x="1547.5" y="313.5"/><use href="#gm" x="1547.5" y="321.5"/><use href="#gm" x="1547.5" y="329.5"/><use href="#gm" x="1548.5" y="319.5"/><use href="#gm" x="1548.5" y="325.5"/><use href="#gm" x="1548.5" y="319.5"/><use href="#gm" x="1548.5" y="329.5"/><use href="#gm" x="1549.5" y="325.5"/><use href="#gm" x="1549.5" y="309.5"/><use href="#gm" x="1549.5" y="309.5"/><use href="#gm" x="1549.5" y="312.5"/><use href="#gm" x="1549.5" y="325.5"/><use href="#gm" x="1549.5" y="323.5"/><use href="#gm" x="1550.5" y="309.5"/><use href="#gm" x="1550.5" y="311.5"/><use href="#gm" x="1550.5" y="313.5"/><use href="#gm" x="1551.5" y="304.5"/><use href="#gm" x="1551.5" y="299.5"/><use href="#gm" x="1551.5" y="312.5"/><use href="#gm" x="1552.5" y="308.5"/><use href="#gm" x="1552.5" y="298.5"/><use href="#gm" x="1552.5" y="305.5"/><use href="#gm" x="1552.5" y="298.5"/><use href="#gm" x="1553.5" y="306.5"/><use href="#gm" x="1553.5" y="295.5"/><use href="#gm" x="1553.5" y="300.5"/><use href="#gm" x="1553.5" y="310.5"/><use href="#gm" x="1554.5" y="305.5"/><use href="#gm" x="1554.5" y="308.5"/><use href="#gm" x="1554.5" y="299.5"/><use href="#gm" x="1554.5" y="311.5"/><use href="#gm" x="1554.5" y="299.5"/><use href="#gm" x="1554.5" y="308.5"/><use href="#gm" x="1555.5" y="310.5"/><use href="#gm" x="1555.5" y="319.5"/><use href="#gm" x="1555.5" y="311.5"/><use href="#gm" x="1555.5" y="292.5"/><use href="#gm" x="1555.5" y="298.5"/><use href="#gm" x="1556.5" y="306.5"/><use href="#gm" x="1556.5" y="296.5"/><use href="#gm" x="1556.5" y="295.5"/><use href="#gm" x="1556.5" y="298.5"/><use href="#gm" x="1556.5" y="310.5"/><use href="#gm" x="1556.5" y="309.5"/><use href="#gm" x="1556.5" y="297.5"/><use href="#gm" x="1557.5" y="313.5"/><use href="#gm" x="1557.5" y="307.5"/><use href="#gm" x="1557.5" y="310.5"/><use href="#gm" x="1557.5" y="309.5"/><use href="#gm" x="1557.5" y="300.5"/><use href="#gm" x="1558.5" y="294.5"/><use href="#gm" x="1558.5" y="305.5"/><use href="#gm" x="1558.5" y="306.5"/><use href="#gm" x="1558.5" y="309.5"/><use href="#gm" x="1558.5" y="289.5"/><use href="#gm" x="1558.5" y="300.5"/><use href="#gm" x="1559.5" y="306.5"/><use href="#gm" x="1559.5" y="298.5"/><use href="#gm" x="1559.5" y="297.5"/><use href="#gm" x="1559.5" y="290.5"/><use href="#gm" x="1559.5" y="284.5"/><use href="#gm" x="1560.5" y="301.5"/><use href="#gm" x="1560.5" y="286.5"/><use href="#gm" x="1560.5" y="297.5"/><use href="#gm" x="1560.5" y="302.5"/><use href="#gm" x="1560.5" y="306.5"/><use href="#gm" x="1561.5" y="285.5"/><use href="#gm" x="1561.5" y="282.5"/><use href="#gm" x="1561.5" y="283.5"/><use href="#gm" x="1561.5" y="282.5"/><use href="#gm" x="1562.5" y="279.5"/><use href="#gm" x="1562.5" y="280.5"/><use href="#gm" x="1562.5" y="276.5"/><use href="#gm" x="1562.5" y="292.5"/><use href="#gm" x="1562.5" y="281.5"/><use href="#gm" x="1562.5" y="278.5"/><use href="#gm" x="1562.5" y="303.5"/><use href="#gm" x="1563.5" y="293.5"/><use href="#gm" x="1563.5" y="283.5"/><use href="#gm" x="1563.5" y="291.5"/><use href="#gm" x="1563.5" y="280.5"/><use href="#gm" x="1563.5" y="300.5"/><use href="#gm" x="1564.5" y="284.5"/><use href="#gm" x="1564.5" y="298.5"/><use href="#gm" x="1564.5" y="280.5"/><use href="#gm" x="1564.5" y="280.5"/><use href="#gm" x="1564.5" y="296.5"/><use href="#gm" x="1565.5" y="278.5"/><use href="#gm" x="1565.5" y="292.5"/><use href="#gm" x="1565.5" y="296.5"/><use href="#gm" x="1565.5" y="285.5"/><use href="#gm" x="1565.5" y="289.5"/><use href="#gm" x="1566.5" y="278.5"/><use href="#gm" x="1566.5" y="301.5"/><use href="#gm" x="1566.5" y="286.5"/><use href="#gm" x="1566.5" y="289.5"/><use href="#gm" x="1566.5" y="301.5"/><use href="#gm" x="1566.5" y="294.5"/><use href="#gm" x="1567.5" y="275.5"/><use href="#gm" x="1567.5" y="281.5"/><use href="#gm" x="1567.5" y="279.5"/><use href="#gm" x="1567.5" y="282.5"/><use href="#gm" x="1568.5" y="282.5"/><use href="#gm" x="1568.5" y="286.5"/><use href="#gm" x="1568.5" y="274.5"/><use href="#gm" x="1568.5" y="295.5"/><use href="#gm" x="1568.5" y="296.5"/><use href="#gm" x="1569.5" y="283.5"/><use href="#gm" x="1569.5" y="278.5"/><use href="#gm" x="1569.5" y="284.5"/><use href="#gm" x="1569.5" y="276.5"/><use href="#gm" x="1570.5" y="284.5"/><use href="#gm" x="1570.5" y="296.5"/><use href="#gm" x="1570.5" y="287.5"/><use href="#gm" x="1570.5" y="275.5"/><use href="#gm" x="1570.5" y="298.5"/><use href="#gm" x="1570.5" y="293.5"/><use href="#gm" x="1571.5" y="297.5"/><use href="#gm" x="1571.5" y="294.5"/><use href="#gm" x="1571.5" y="283.5"/><use href="#gm" x="1571.5" y="283.5"/><use href="#gm" x="1571.5" y="272.5"/><use href="#gm" x="1571.5" y="294.5"/><use href="#gm" x="1572.5" y="295.5"/><use href="#gm" x="1572.5" y="288.5"/><use href="#gm" x="1572.5" y="284.5"/><use href="#gm" x="1572.5" y="275.5"/><use href="#gm" x="1572.5" y="276.5"/><use href="#gm" x="1572.5" y="288.5"/><use href="#gm" x="1572.5" y="282.5"/><use href="#gm" x="1573.5" y="292.5"/><use href="#gm" x="1573.5" y="304.5"/><use href="#gm" x="1573.5" y="292.5"/><use href="#gm" x="1573.5" y="306.5"/><use href="#gm" x="1573.5" y="283.5"/><use href="#gm" x="1574.5" y="296.5"/><use href="#gm" x="1574.5" y="289.5"/><use href="#gm" x="1574.5" y="292.5"/><use href="#gm" x="1574.5" y="291.5"/><use href="#gm" x="1575.5" y="300.5"/><use href="#gm" x="1575.5" y="292.5"/><use href="#gm" x="1575.5" y="297.5"/><use href="#gm" x="1575.5" y="302.5"/><use href="#gm" x="1575.5" y="286.5"/><use href="#gm" x="1575.5" y="296.5"/><use href="#gm" x="1575.5" y="300.5"/><use href="#gm" x="1576.5" y="286.5"/><use href="#gm" x="1576.5" y="297.5"/><use href="#gm" x="1576.5" y="291.5"/><use href="#gm" x="1576.5" y="312.5"/><use href="#gm" x="1576.5" y="303.5"/><use href="#gm" x="1577.5" y="310.5"/><use href="#gm" x="1577.5" y="304.5"/><use href="#gm" x="1577.5" y="305.5"/><use href="#gm" x="1577.5" y="305.5"/><use href="#gm" x="1577.5" y="310.5"/><use href="#gm" x="1577.5" y="307.5"/><use href="#gm" x="1578.5" y="319.5"/><use href="#gm" x="1578.5" y="313.5"/><use href="#gm" x="1578.5" y="316.5"/><use href="#gm" x="1579.5" y="312.5"/><use href="#gm" x="1579.5" y="314.5"/><use href="#gm" x="1579.5" y="322.5"/><use href="#gm" x="1579.5" y="311.5"/><use href="#gm" x="1579.5" y="308.5"/><use href="#gm" x="1580.5" y="317.5"/><use href="#gm" x="1580.5" y="325.5"/><use href="#gm" x="1580.5" y="316.5"/><use href="#gm" x="1580.5" y="307.5"/><use href="#gm" x="1580.5" y="308.5"/><use href="#gm" x="1581.5" y="317.5"/><use href="#gm" x="1581.5" y="325.5"/><use href="#gm" x="1581.5" y="332.5"/><use href="#gm" x="1581.5" y="310.5"/><use href="#gm" x="1582.5" y="314.5"/><use href="#gm" x="1582.5" y="340.5"/><use href="#gm" x="1582.5" y="312.5"/><use href="#gm" x="1582.5" y="337.5"/><use href="#gm" x="1582.5" y="328.5"/><use href="#gm" x="1583.5" y="336.5"/><use href="#gm" x="1583.5" y="326.5"/><use href="#gm" x="1583.5" y="344.5"/><use href="#gm" x="1583.5" y="328.5"/><use href="#gm" x="1583.5" y="345.5"/><use href="#gm" x="1583.5" y="333.5"/><use href="#gm" x="1584.5" y="333.5"/><use href="#gm" x="1584.5" y="339.5"/><use href="#gm" x="1584.5" y="324.5"/><use href="#gm" x="1584.5" y="327.5"/><use href="#gm" x="1585.5" y="324.5"/><use href="#gm" x="1585.5" y="350.5"/><use href="#gm" x="1585.5" y="324.5"/><use href="#gm" x="1585.5" y="322.5"/><use href="#gm" x="1585.5" y="332.5"/><use href="#gm" x="1585.5" y="324.5"/><use href="#gm" x="1586.5" y="330.5"/><use href="#gm" x="1586.5" y="344.5"/><use href="#gm" x="1586.5" y="341.5"/><use href="#gm" x="1587.5" y="344.5"/><use href="#gm" x="1587.5" y="353.5"/><use href="#gm" x="1587.5" y="348.5"/><use href="#gm" x="1587.5" y="334.5"/><use href="#gm" x="1587.5" y="345.5"/><use href="#gm" x="1587.5" y="348.5"/><use href="#gm" x="1588.5" y="342.5"/><use href="#gm" x="1588.5" y="346.5"/><use href="#gm" x="1588.5" y="344.5"/><use href="#gm" x="1588.5" y="356.5"/><use href="#gm" x="1588.5" y="335.5"/><use href="#gm" x="1589.5" y="348.5"/><use href="#gm" x="1589.5" y="338.5"/><use href="#gm" x="1589.5" y="333.5"/><use href="#gm" x="1589.5" y="338.5"/><use href="#gm" x="1589.5" y="360.5"/><use href="#gm" x="1589.5" y="355.5"/><use href="#gm" x="1590.5" y="349.5"/><use href="#gm" x="1590.5" y="331.5"/><use href="#gm" x="1590.5" y="357.5"/><use href="#gm" x="1590.5" y="360.5"/><use href="#gm" x="1590.5" y="330.5"/><use href="#gm" x="1590.5" y="327.5"/><use href="#gm" x="1591.5" y="342.5"/><use href="#gm" x="1591.5" y="357.5"/><use href="#gm" x="1591.5" y="341.5"/><use href="#gm" x="1592.5" y="338.5"/><use href="#gm" x="1592.5" y="365.5"/><use href="#gm" x="1592.5" y="338.5"/><use href="#gm" x="1592.5" y="352.5"/><use href="#gm" x="1592.5" y="344.5"/><use href="#gm" x="1593.5" y="348.5"/><use href="#gm" x="1593.5" y="365.5"/><use href="#gm" x="1593.5" y="334.5"/><use href="#gm" x="1593.5" y="334.5"/><use href="#gm" x="1594.5" y="352.5"/><use href="#gm" x="1594.5" y="337.5"/><use href="#gm" x="1594.5" y="327.5"/><use href="#gm" x="1594.5" y="350.5"/><use href="#gm" x="1594.5" y="330.5"/><use href="#gm" x="1595.5" y="330.5"/><use href="#gm" x="1595.5" y="323.5"/><use href="#gm" x="1595.5" y="331.5"/><use href="#gm" x="1595.5" y="337.5"/><use href="#gm" x="1596.5" y="331.5"/><use href="#gm" x="1596.5" y="333.5"/><use href="#gm" x="1596.5" y="326.5"/><use href="#gm" x="1596.5" y="335.5"/><use href="#gm" x="1596.5" y="323.5"/><use href="#gm" x="1596.5" y="333.5"/><use href="#gm" x="1597.5" y="323.5"/><use href="#gm" x="1597.5" y="326.5"/><use href="#gm" x="1597.5" y="322.5"/><use href="#gm" x="1597.5" y="313.5"/><use href="#gm" x="1597.5" y="332.5"/><use href="#gm" x="1598.5" y="328.5"/><use href="#gm" x="1598.5" y="314.5"/><use href="#gm" x="1598.5" y="322.5"/><use href="#gm" x="1599.5" y="324.5"/><use href="#gm" x="1599.5" y="308.5"/><use href="#gm" x="1599.5" y="311.5"/><use href="#gm" x="1599.5" y="325.5"/><use href="#gm" x="1600.5" y="312.5"/><use href="#gm" x="1600.5" y="322.5"/><use href="#gm" x="1600.5" y="303.5"/><use href="#gm" x="1600.5" y="315.5"/><use href="#gm" x="1600.5" y="314.5"/><use href="#gm" x="1600.5" y="298.5"/><use href="#gm" x="1600.5" y="316.5"/><use href="#gm" x="1601.5" y="310.5"/><use href="#gm" x="1601.5" y="302.5"/><use href="#gm" x="1601.5" y="310.5"/><use href="#gm" x="1601.5" y="312.5"/><use href="#gm" x="1602.5" y="304.5"/><use href="#gm" x="1602.5" y="296.5"/><use href="#gm" x="1602.5" y="305.5"/><use href="#gm" x="1602.5" y="304.5"/><use href="#gm" x="1602.5" y="304.5"/><use href="#gm" x="1603.5" y="298.5"/><use href="#gm" x="1603.5" y="309.5"/><use href="#gm" x="1603.5" y="297.5"/><use href="#gm" x="1603.5" y="302.5"/><use href="#gm" x="1604.5" y="297.5"/><use href="#gm" x="1604.5" y="301.5"/><use href="#gm" x="1604.5" y="288.5"/><use href="#gm" x="1604.5" y="303.5"/><use href="#gm" x="1604.5" y="301.5"/><use href="#gm" x="1605.5" y="291.5"/><use href="#gm" x="1605.5" y="290.5"/><use href="#gm" x="1605.5" y="284.5"/><use href="#gm" x="1605.5" y="283.5"/><use href="#gm" x="1606.5" y="280.5"/><use href="#gm" x="1606.5" y="284.5"/><use href="#gm" x="1606.5" y="285.5"/><use href="#gm" x="1606.5" y="297.5"/><use href="#gm" x="1606.5" y="278.5"/><use href="#gm" x="1607.5" y="281.5"/><use href="#gm" x="1607.5" y="283.5"/><use href="#gm" x="1607.5" y="267.5"/><use href="#gm" x="1607.5" y="264.5"/><use href="#gm" x="1608.5" y="280.5"/><use href="#gm" x="1608.5" y="267.5"/><use href="#gm" x="1608.5" y="260.5"/><use href="#gm" x="1608.5" y="293.5"/><use href="#gm" x="1608.5" y="276.5"/><use href="#gm" x="1608.5" y="274.5"/><use href="#gm" x="1608.5" y="273.5"/><use href="#gm" x="1609.5" y="281.5"/><use href="#gm" x="1609.5" y="282.5"/><use href="#gm" x="1609.5" y="260.5"/><use href="#gm" x="1609.5" y="279.5"/><use href="#gm" x="1610.5" y="266.5"/><use href="#gm" x="1610.5" y="300.5"/><use href="#gm" x="1610.5" y="286.5"/><use href="#gm" x="1610.5" y="277.5"/><use href="#gm" x="1610.5" y="282.5"/><use href="#gm" x="1610.5" y="283.5"/><use href="#gm" x="1611.5" y="263.5"/><use href="#gm" x="1611.5" y="284.5"/><use href="#gm" x="1611.5" y="286.5"/><use href="#gm" x="1612.5" y="282.5"/><use href="#gm" x="1612.5" y="260.5"/><use href="#gm" x="1612.5" y="261.5"/><use href="#gm" x="1612.5" y="284.5"/><use href="#gm" x="1612.5" y="259.5"/><use href="#gm" x="1613.5" y="262.5"/><use href="#gm" x="1613.5" y="276.5"/><use href="#gm" x="1613.5" y="269.5"/><use href="#gm" x="1613.5" y="264.5"/><use href="#gm" x="1614.5" y="256.5"/><use href="#gm" x="1614.5" y="281.5"/><use href="#gm" x="1614.5" y="273.5"/><use href="#gm" x="1614.5" y="265.5"/><use href="#gm" x="1614.5" y="279.5"/><use href="#gm" x="1614.5" y="264.5"/><use href="#gm" x="1615.5" y="274.5"/><use href="#gm" x="1615.5" y="274.5"/><use href="#gm" x="1615.5" y="272.5"/><use href="#gm" x="1615.5" y="272.5"/><use href="#gm" x="1615.5" y="279.5"/><use href="#gm" x="1615.5" y="276.5"/><use href="#gm" x="1616.5" y="273.5"/><use href="#gm" x="1616.5" y="259.5"/><use href="#gm" x="1616.5" y="268.5"/><use href="#gm" x="1616.5" y="263.5"/><use href="#gm" x="1616.5" y="278.5"/><use href="#gm" x="1616.5" y="276.5"/><use href="#gm" x="1617.5" y="255.5"/><use href="#gm" x="1617.5" y="272.5"/><use href="#gm" x="1617.5" y="269.5"/><use href="#gm" x="1617.5" y="278.5"/><use href="#gm" x="1617.5" y="262.5"/><use href="#gm" x="1617.5" y="252.5"/><use href="#gm" x="1617.5" y="258.5"/><use href="#gm" x="1618.5" y="269.5"/><use href="#gm" x="1618.5" y="267.5"/><use href="#gm" x="1618.5" y="255.5"/><use href="#gm" x="1618.5" y="274.5"/><use href="#gm" x="1618.5" y="260.5"/><use href="#gm" x="1618.5" y="263.5"/><use href="#gm" x="1619.5" y="252.5"/><use href="#gm" x="1619.5" y="256.5"/><use href="#gm" x="1619.5" y="256.5"/><use href="#gm" x="1620.5" y="265.5"/><use href="#gm" x="1620.5" y="274.5"/><use href="#gm" x="1620.5" y="261.5"/><use href="#gm" x="1620.5" y="253.5"/><use href="#gm" x="1620.5" y="274.5"/><use href="#gm" x="1621.5" y="254.5"/><use href="#gm" x="1621.5" y="269.5"/><use href="#gm" x="1621.5" y="260.5"/><use href="#gm" x="1621.5" y="270.5"/><use href="#gm" x="1621.5" y="260.5"/><use href="#gm" x="1622.5" y="260.5"/><use href="#gm" x="1622.5" y="256.5"/><use href="#gm" x="1622.5" y="257.5"/><use href="#gm" x="1622.5" y="259.5"/><use href="#gm" x="1623.5" y="253.5"/><use href="#gm" x="1623.5" y="259.5"/><use href="#gm" x="1623.5" y="263.5"/><use href="#gm" x="1623.5" y="249.5"/><use href="#gm" x="1623.5" y="250.5"/><use href="#gm" x="1623.5" y="265.5"/><use href="#gm" x="1624.5" y="247.5"/><use href="#gm" x="1624.5" y="266.5"/><use href="#gm" x="1624.5" y="249.5"/><use href="#gm" x="1624.5" y="245.5"/><use href="#gm" x="1624.5" y="258.5"/><use href="#gm" x="1624.5" y="262.5"/><use href="#gm" x="1625.5" y="268.5"/><use href="#gm" x="1625.5" y="271.5"/><use href="#gm" x="1625.5" y="259.5"/><use href="#gm" x="1625.5" y="252.5"/><use href="#gm" x="1625.5" y="252.5"/><use href="#gm" x="1626.5" y="257.5"/><use href="#gm" x="1626.5" y="265.5"/><use href="#gm" x="1626.5" y="266.5"/><use href="#gm" x="1627.5" y="271.5"/><use href="#gm" x="1627.5" y="262.5"/><use href="#gm" x="1627.5" y="254.5"/><use href="#gm" x="1627.5" y="273.5"/><use href="#gm" x="1627.5" y="277.5"/><use href="#gm" x="1627.5" y="269.5"/><use href="#gm" x="1628.5" y="257.5"/><use href="#gm" x="1628.5" y="275.5"/><use href="#gm" x="1628.5" y="268.5"/><use href="#gm" x="1628.5" y="266.5"/><use href="#gm" x="1629.5" y="278.5"/><use href="#gm" x="1629.5" y="284.5"/><use href="#gm" x="1629.5" y="284.5"/><use href="#gm" x="1629.5" y="274.5"/><use href="#gm" x="1629.5" y="278.5"/><use href="#gm" x="1630.5" y="282.5"/><use href="#gm" x="1630.5" y="272.5"/><use href="#gm" x="1630.5" y="270.5"/><use href="#gm" x="1630.5" y="279.5"/><use href="#gm" x="1630.5" y="289.5"/><use href="#gm" x="1631.5" y="292.5"/><use href="#gm" x="1631.5" y="291.5"/><use href="#gm" x="1631.5" y="283.5"/><use href="#gm" x="1631.5" y="293.5"/><use href="#gm" x="1632.5" y="295.5"/><use href="#gm" x="1632.5" y="285.5"/><use href="#gm" x="1632.5" y="301.5"/><use href="#gm" x="1632.5" y="280.5"/><use href="#gm" x="1632.5" y="291.5"/><use href="#gm" x="1632.5" y="290.5"/><use href="#gm" x="1632.5" y="279.5"/><use href="#gm" x="1633.5" y="293.5"/><use href="#gm" x="1633.5" y="279.5"/><use href="#gm" x="1633.5" y="285.5"/><use href="#gm" x="1633.5" y="292.5"/><use href="#gm" x="1634.5" y="295.5"/><use href="#gm" x="1634.5" y="285.5"/><use href="#gm" x="1634.5" y="286.5"/><use href="#gm" x="1634.5" y="300.5"/><use href="#gm" x="1634.5" y="288.5"/><use href="#gm" x="1635.5" y="304.5"/><use href="#gm" x="1635.5" y="281.5"/><use href="#gm" x="1635.5" y="282.5"/><use href="#gm" x="1635.5" y="289.5"/><use href="#gm" x="1635.5" y="298.5"/><use href="#gm" x="1636.5" y="280.5"/><use href="#gm" x="1636.5" y="298.5"/><use href="#gm" x="1636.5" y="289.5"/><use href="#gm" x="1636.5" y="310.5"/><use href="#gm" x="1636.5" y="293.5"/><use href="#gm" x="1636.5" y="300.5"/><use href="#gm" x="1637.5" y="290.5"/><use href="#gm" x="1637.5" y="305.5"/><use href="#gm" x="1637.5" y="298.5"/><use href="#gm" x="1637.5" y="315.5"/><use href="#gm" x="1637.5" y="284.5"/><use href="#gm" x="1638.5" y="281.5"/><use href="#gm" x="1638.5" y="314.5"/><use href="#gm" x="1638.5" y="294.5"/><use href="#gm" x="1638.5" y="301.5"/><use href="#gm" x="1638.5" y="305.5"/><use href="#gm" x="1638.5" y="299.5"/><use href="#gm" x="1638.5" y="309.5"/><use href="#gm" x="1639.5" y="314.5"/><use href="#gm" x="1639.5" y="314.5"/><use href="#gm" x="1639.5" y="290.5"/><use href="#gm" x="1639.5" y="300.5"/><use href="#gm" x="1639.5" y="310.5"/><use href="#gm" x="1640.5" y="326.5"/><use href="#gm" x="1640.5" y="317.5"/><use href="#gm" x="1640.5" y="329.5"/><use href="#gm" x="1640.5" y="336.5"/><use href="#gm" x="1640.5" y="309.5"/><use href="#gm" x="1640.5" y="300.5"/><use href="#gm" x="1640.5" y="333.5"/><use href="#gm" x="1641.5" y="335.5"/><use href="#gm" x="1641.5" y="341.5"/><use href="#gm" x="1641.5" y="334.5"/><use href="#gm" x="1641.5" y="323.5"/><use href="#gm" x="1642.5" y="316.5"/><use href="#gm" x="1642.5" y="326.5"/><use href="#gm" x="1642.5" y="342.5"/><use href="#gm" x="1642.5" y="338.5"/><use href="#gm" x="1642.5" y="353.5"/><use href="#gm" x="1642.5" y="340.5"/><use href="#gm" x="1643.5" y="378.5"/><use href="#gm" x="1643.5" y="322.5"/><use href="#gm" x="1643.5" y="364.5"/><use href="#gm" x="1643.5" y="348.5"/><use href="#gm" x="1643.5" y="325.5"/><use href="#gm" x="1644.5" y="328.5"/><use href="#gm" x="1644.5" y="344.5"/><use href="#gm" x="1644.5" y="324.5"/><use href="#gm" x="1644.5" y="338.5"/><use href="#gm" x="1644.5" y="330.5"/><use href="#gm" x="1645.5" y="314.5"/><use href="#gm" x="1645.5" y="333.5"/><use href="#gm" x="1645.5" y="357.5"/><use href="#gm" x="1645.5" y="327.5"/><use href="#gm" x="1645.5" y="345.5"/><use href="#gm" x="1646.5" y="331.5"/><use href="#gm" x="1646.5" y="312.5"/><use href="#gm" x="1646.5" y="315.5"/><use href="#gm" x="1646.5" y="305.5"/><use href="#gm" x="1647.5" y="334.5"/><use href="#gm" x="1647.5" y="321.5"/><use href="#gm" x="1647.5" y="305.5"/><use href="#gm" x="1647.5" y="350.5"/><use href="#gm" x="1647.5" y="312.5"/><use href="#gm" x="1648.5" y="312.5"/><use href="#gm" x="1648.5" y="316.5"/><use href="#gm" x="1648.5" y="321.5"/><use href="#gm" x="1648.5" y="339.5"/><use href="#gm" x="1648.5" y="317.5"/><use href="#gm" x="1648.5" y="319.5"/><use href="#gm" x="1649.5" y="317.5"/><use href="#gm" x="1649.5" y="311.5"/><use href="#gm" x="1649.5" y="337.5"/><use href="#gm" x="1649.5" y="314.5"/><use href="#gm" x="1649.5" y="329.5"/><use href="#gm" x="1649.5" y="332.5"/><use href="#gm" x="1650.5" y="324.5"/><use href="#gm" x="1650.5" y="314.5"/><use href="#gm" x="1650.5" y="309.5"/><use href="#gm" x="1650.5" y="326.5"/><use href="#gm" x="1650.5" y="341.5"/><use href="#gm" x="1651.5" y="335.5"/><use href="#gm" x="1651.5" y="325.5"/><use href="#gm" x="1651.5" y="327.5"/><use href="#gm" x="1651.5" y="317.5"/><use href="#gm" x="1651.5" y="319.5"/><use href="#gm" x="1652.5" y="317.5"/><use href="#gm" x="1652.5" y="327.5"/><use href="#gm" x="1652.5" y="334.5"/><use href="#gm" x="1652.5" y="334.5"/><use href="#gm" x="1653.5" y="323.5"/><use href="#gm" x="1653.5" y="323.5"/><use href="#gm" x="1653.5" y="329.5"/><use href="#gm" x="1653.5" y="327.5"/><use href="#gm" x="1653.5" y="330.5"/><use href="#gm" x="1653.5" y="308.5"/><use href="#gm" x="1654.5" y="304.5"/><use href="#gm" x="1654.5" y="315.5"/><use href="#gm" x="1654.5" y="307.5"/><use href="#gm" x="1654.5" y="304.5"/><use href="#gm" x="1655.5" y="297.5"/><use href="#gm" x="1655.5" y="312.5"/><use href="#gm" x="1655.5" y="296.5"/><use href="#gm" x="1655.5" y="318.5"/><use href="#gm" x="1655.5" y="292.5"/><use href="#gm" x="1655.5" y="303.5"/><use href="#gm" x="1656.5" y="307.5"/><use href="#gm" x="1656.5" y="293.5"/><use href="#gm" x="1656.5" y="292.5"/><use href="#gm" x="1656.5" y="293.5"/><use href="#gm" x="1657.5" y="290.5"/><use href="#gm" x="1657.5" y="294.5"/><use href="#gm" x="1657.5" y="298.5"/><use href="#gm" x="1657.5" y="300.5"/><use href="#gm" x="1658.5" y="293.5"/><use href="#gm" x="1658.5" y="294.5"/><use href="#gm" x="1658.5" y="289.5"/><use href="#gm" x="1658.5" y="298.5"/><use href="#gm" x="1658.5" y="284.5"/><use href="#gm" x="1658.5" y="290.5"/><use href="#gm" x="1659.5" y="292.5"/><use href="#gm" x="1659.5" y="285.5"/><use href="#gm" x="1659.5" y="269.5"/><use href="#gm" x="1659.5" y="269.5"/><use href="#gm" x="1073.5" y="468.5"/><use href="#gm" x="1157.5" y="411.5"/><use href="#gm" x="1276.5" y="378.5"/><use href="#gm" x="1270.5" y="387.5"/><use href="#gm" x="1295.5" y="449.5"/><use href="#gm" x="1311.5" y="513.5"/><use href="#gm" x="1341.5" y="332.5"/><use href="#gm" x="1348.5" y="334.5"/><use href="#gm" x="1345.5" y="338.5"/><use href="#gm" x="1369.5" y="458.5"/><use href="#gm" x="1399.5" y="317.5"/><use href="#gm" x="1437.5" y="288.5"/><use href="#gm" x="1436.5" y="310.5"/><use href="#gm" x="1455.5" y="291.5"/><use href="#gm" x="1457.5" y="295.5"/><use href="#gm" x="1462.5" y="369.5"/><use href="#gm" x="1484.5" y="395.5"/><use href="#gm" x="1493.5" y="297.5"/><use href="#gm" x="1497.5" y="297.5"/><use href="#gm" x="1494.5" y="190.5"/><use href="#gm" x="1494.5" y="216.5"/><use href="#gm" x="1503.5" y="282.5"/><use href="#gm" x="1508.5" y="280.5"/><use href="#gm" x="1564.5" y="252.5"/><use href="#gm" x="1552.5" y="267.5"/><use href="#gm" x="1564.5" y="353.5"/><use href="#gm" x="1622.5" y="241.5"/><use href="#gm" x="1607.5" y="246.5"/><use href="#gm" x="1630.5" y="315.5"/><use href="#gm" x="1639.5" y="343.5"/><use href="#gm" x="1643.5" y="374.5"/><use href="#gm" x="1659.5" y="265.5"/><use href="#gm" x="1087.5" y="552.5"/><use href="#gm" x="1088.5" y="557.5"/><use href="#gm" x="1090.5" y="564.5"/><use href="#gm" x="1089.5" y="549.5"/><use href="#gm" x="1086.5" y="545.5"/><use href="#gm" x="1341.5" y="338.5"/><use href="#gm" x="1344.5" y="342.5"/><use href="#gm" x="1346.5" y="345.5"/><use href="#gm" x="1347.5" y="333.5"/><use href="#gm" x="1350.5" y="350.5"/><use href="#gm" x="1337.5" y="361.5"/><use href="#gm" x="1335.5" y="361.5"/></g><g fill="#0000ff"><circle cx="308.5" cy="764.5" r="1.7"/><circle cx="309.5" cy="750.5" r="1.7"/><circle cx="313.5" cy="709.5" r="1.7"/><circle cx="317.5" cy="649.5" r="1.7"/><circle cx="318.5" cy="689.5" r="1.7"/><circle cx="317.5" cy="699.5" r="1.7"/><circle cx="320.5" cy="700.5" r="1.7"/><circle cx="319.5" cy="704.5" r="1.7"/><circle cx="321.5" cy="682.5" r="1.7"/><circle cx="325.5" cy="683.5" r="1.7"/><circle cx="327.5" cy="677.5" r="1.7"/><circle cx="326.5" cy="670.5" r="1.7"/><circle cx="329.5" cy="680.5" r="1.7"/><circle cx="330.5" cy="689.5" r="1.7"/><circle cx="331.5" cy="670.5" r="1.7"/><circle cx="333.5" cy="667.5" r="1.7"/><circle cx="334.5" cy="662.5" r="1.7"/><circle cx="339.5" cy="640.5" r="1.7"/><circle cx="342.5" cy="636.5" r="1.7"/><circle cx="345.5" cy="582.5" r="1.7"/><circle cx="346.5" cy="621.5" r="1.7"/><circle cx="350.5" cy="671.5" r="1.7"/><circle cx="354.5" cy="715.5" r="1.7"/><circle cx="356.5" cy="707.5" r="1.7"/><circle cx="359.5" cy="709.5" r="1.7"/><circle cx="361.5" cy="713.5" r="1.7"/><circle cx="363.5" cy="719.5" r="1.7"/><circle cx="358.5" cy="737.5" r="1.7"/><circle cx="360.5" cy="572.5" r="1.7"/><circle cx="367.5" cy="661.5" r="1.7"/><circle cx="365.5" cy="683.5" r="1.7"/><circle cx="368.5" cy="681.5" r="1.7"/><circle cx="371.5" cy="679.5" r="1.7"/><circle cx="372.5" cy="683.5" r="1.7"/><circle cx="370.5" cy="699.5" r="1.7"/><circle cx="415.5" cy="694.5" r="1.7"/><circle cx="417.5" cy="687.5" r="1.7"/><circle cx="420.5" cy="690.5" r="1.7"/><circle cx="421.5" cy="687.5" r="1.7"/><circle cx="422.5" cy="680.5" r="1.7"/><circle cx="423.5" cy="671.5" r="1.7"/><circle cx="426.5" cy="668.5" r="1.7"/><circle cx="416.5" cy="648.5" r="1.7"/><circle cx="431.5" cy="642.5" r="1.7"/><circle cx="432.5" cy="633.5" r="1.7"/><circle cx="434.5" cy="629.5" r="1.7"/><circle cx="441.5" cy="649.5" r="1.7"/><circle cx="443.5" cy="638.5" r="1.7"/><circle cx="447.5" cy="640.5" r="1.7"/><circle cx="445.5" cy="590.5" r="1.7"/><circle cx="444.5" cy="625.5" r="1.7"/><circle cx="446.5" cy="626.5" r="1.7"/><circle cx="449.5" cy="621.5" r="1.7"/><circle cx="450.5" cy="626.5" r="1.7"/><circle cx="452.5" cy="627.5" r="1.7"/><circle cx="453.5" cy="629.5" r="1.7"/><circle cx="454.5" cy="649.5" r="1.7"/><circle cx="459.5" cy="645.5" r="1.7"/><circle cx="460.5" cy="644.5" r="1.7"/><circle cx="464.5" cy="649.5" r="1.7"/><circle cx="468.5" cy="664.5" r="1.7"/><circle cx="468.5" cy="668.5" r="1.7"/><circle cx="465.5" cy="674.5" r="1.7"/><circle cx="469.5" cy="674.5" r="1.7"/><circle cx="471.5" cy="675.5" r="1.7"/><circle cx="472.5" cy="675.5" r="1.7"/><circle cx="475.5" cy="674.5" r="1.7"/><circle cx="467.5" cy="687.5" r="1.7"/><circle cx="473.5" cy="695.5" r="1.7"/><circle cx="477.5" cy="693.5" r="1.7"/><circle cx="478.5" cy="683.5" r="1.7"/><circle cx="479.5" cy="666.5" r="1.7"/><circle cx="480.5" cy="667.5" r="1.7"/><circle cx="481.5" cy="662.5" r="1.7"/><circle cx="486.5" cy="655.5" r="1.7"/><circle cx="488.5" cy="642.5" r="1.7"/><circle cx="483.5" cy="637.5" r="1.7"/><circle cx="484.5" cy="637.5" r="1.7"/><circle cx="476.5" cy="627.5" r="1.7"/><circle cx="487.5" cy="628.5" r="1.7"/><circle cx="489.5" cy="628.5" r="1.7"/><circle cx="498.5" cy="567.5" r="1.7"/><circle cx="500.5" cy="567.5" r="1.7"/><circle cx="502.5" cy="609.5" r="1.7"/><circle cx="517.5" cy="621.5" r="1.7"/><circle cx="519.5" cy="626.5" r="1.7"/><circle cx="520.5" cy="626.5" r="1.7"/><circle cx="522.5" cy="650.5" r="1.7"/><circle cx="526.5" cy="650.5" r="1.7"/><circle cx="525.5" cy="655.5" r="1.7"/><circle cx="524.5" cy="668.5" r="1.7"/><circle cx="527.5" cy="667.5" r="1.7"/><circle cx="530.5" cy="670.5" r="1.7"/><circle cx="560.5" cy="523.5" r="1.7"/><circle cx="557.5" cy="598.5" r="1.7"/><circle cx="559.5" cy="602.5" r="1.7"/><circle cx="561.5" cy="599.5" r="1.7"/><circle cx="564.5" cy="588.5" r="1.7"/><circle cx="565.5" cy="593.5" r="1.7"/><circle cx="562.5" cy="612.5" r="1.7"/><circle cx="568.5" cy="600.5" r="1.7"/><circle cx="572.5" cy="606.5" r="1.7"/><circle cx="574.5" cy="608.5" r="1.7"/><circle cx="574.5" cy="592.5" r="1.7"/><circle cx="575.5" cy="616.5" r="1.7"/><circle cx="576.5" cy="622.5" r="1.7"/><circle cx="577.5" cy="633.5" r="1.7"/><circle cx="584.5" cy="631.5" r="1.7"/><circle cx="578.5" cy="644.5" r="1.7"/><circle cx="580.5" cy="650.5" r="1.7"/><circle cx="582.5" cy="664.5" r="1.7"/><circle cx="591.5" cy="650.5" r="1.7"/><circle cx="594.5" cy="641.5" r="1.7"/><circle cx="593.5" cy="625.5" r="1.7"/><circle cx="595.5" cy="619.5" r="1.7"/><circle cx="598.5" cy="612.5" r="1.7"/><circle cx="599.5" cy="605.5" r="1.7"/><circle cx="600.5" cy="604.5" r="1.7"/><circle cx="601.5" cy="604.5" r="1.7"/><circle cx="607.5" cy="570.5" r="1.7"/><circle cx="609.5" cy="559.5" r="1.7"/><circle cx="610.5" cy="580.5" r="1.7"/><circle cx="612.5" cy="586.5" r="1.7"/><circle cx="626.5" cy="583.5" r="1.7"/><circle cx="627.5" cy="593.5" r="1.7"/><circle cx="630.5" cy="601.5" r="1.7"/><circle cx="628.5" cy="617.5" r="1.7"/><circle cx="636.5" cy="612.5" r="1.7"/><circle cx="637.5" cy="611.5" r="1.7"/><circle cx="632.5" cy="637.5" r="1.7"/><circle cx="634.5" cy="633.5" r="1.7"/><circle cx="639.5" cy="629.5" r="1.7"/><circle cx="635.5" cy="646.5" r="1.7"/><circle cx="638.5" cy="652.5" r="1.7"/><circle cx="632.5" cy="655.5" r="1.7"/><circle cx="645.5" cy="633.5" r="1.7"/><circle cx="648.5" cy="635.5" r="1.7"/><circle cx="647.5" cy="611.5" r="1.7"/><circle cx="649.5" cy="614.5" r="1.7"/><circle cx="650.5" cy="602.5" r="1.7"/><circle cx="651.5" cy="607.5" r="1.7"/><circle cx="655.5" cy="608.5" r="1.7"/><circle cx="657.5" cy="540.5" r="1.7"/><circle cx="660.5" cy="588.5" r="1.7"/><circle cx="661.5" cy="579.5" r="1.7"/><circle cx="666.5" cy="570.5" r="1.7"/><circle cx="667.5" cy="573.5" r="1.7"/><circle cx="668.5" cy="578.5" r="1.7"/><circle cx="670.5" cy="559.5" r="1.7"/><circle cx="671.5" cy="569.5" r="1.7"/><circle cx="672.5" cy="546.5" r="1.7"/><circle cx="675.5" cy="553.5" r="1.7"/><circle cx="685.5" cy="590.5" r="1.7"/><circle cx="683.5" cy="598.5" r="1.7"/><circle cx="684.5" cy="599.5" r="1.7"/><circle cx="687.5" cy="595.5" r="1.7"/><circle cx="688.5" cy="607.5" r="1.7"/><circle cx="693.5" cy="603.5" r="1.7"/><circle cx="689.5" cy="620.5" r="1.7"/><circle cx="691.5" cy="626.5" r="1.7"/><circle cx="694.5" cy="625.5" r="1.7"/><circle cx="690.5" cy="638.5" r="1.7"/><circle cx="695.5" cy="630.5" r="1.7"/><circle cx="696.5" cy="634.5" r="1.7"/><circle cx="696.5" cy="637.5" r="1.7"/><circle cx="697.5" cy="628.5" r="1.7"/><circle cx="698.5" cy="619.5" r="1.7"/><circle cx="700.5" cy="625.5" r="1.7"/><circle cx="702.5" cy="616.5" r="1.7"/><circle cx="709.5" cy="577.5" r="1.7"/><circle cx="710.5" cy="466.5" r="1.7"/><circle cx="711.5" cy="560.5" r="1.7"/><circle cx="713.5" cy="557.5" r="1.7"/><circle cx="712.5" cy="545.5" r="1.7"/><circle cx="716.5" cy="512.5" r="1.7"/><circle cx="717.5" cy="571.5" r="1.7"/><circle cx="719.5" cy="539.5" r="1.7"/><circle cx="720.5" cy="543.5" r="1.7"/><circle cx="722.5" cy="534.5" r="1.7"/><circle cx="723.5" cy="556.5" r="1.7"/><circle cx="724.5" cy="555.5" r="1.7"/><circle cx="726.5" cy="559.5" r="1.7"/><circle cx="729.5" cy="535.5" r="1.7"/><circle cx="730.5" cy="520.5" r="1.7"/><circle cx="732.5" cy="553.5" r="1.7"/><circle cx="733.5" cy="530.5" r="1.7"/><circle cx="734.5" cy="534.5" r="1.7"/><circle cx="735.5" cy="552.5" r="1.7"/><circle cx="735.5" cy="566.5" r="1.7"/><circle cx="737.5" cy="558.5" r="1.7"/><circle cx="738.5" cy="544.5" r="1.7"/><circle cx="740.5" cy="568.5" r="1.7"/><circle cx="741.5" cy="565.5" r="1.7"/><circle cx="742.5" cy="579.5" r="1.7"/><circle cx="744.5" cy="579.5" r="1.7"/><circle cx="739.5" cy="630.5" r="1.7"/><circle cx="744.5" cy="627.5" r="1.7"/><circle cx="749.5" cy="637.5" r="1.7"/><circle cx="755.5" cy="641.5" r="1.7"/><circle cx="752.5" cy="605.5" r="1.7"/><circle cx="753.5" cy="592.5" r="1.7"/><circle cx="756.5" cy="586.5" r="1.7"/><circle cx="758.5" cy="591.5" r="1.7"/><circle cx="760.5" cy="590.5" r="1.7"/><circle cx="762.5" cy="579.5" r="1.7"/><circle cx="761.5" cy="571.5" r="1.7"/><circle cx="764.5" cy="585.5" r="1.7"/><circle cx="765.5" cy="586.5" r="1.7"/><circle cx="766.5" cy="582.5" r="1.7"/><circle cx="767.5" cy="558.5" r="1.7"/><circle cx="768.5" cy="559.5" r="1.7"/><circle cx="769.5" cy="521.5" r="1.7"/><circle cx="771.5" cy="556.5" r="1.7"/><circle cx="772.5" cy="551.5" r="1.7"/><circle cx="773.5" cy="559.5" r="1.7"/><circle cx="774.5" cy="551.5" r="1.7"/><circle cx="776.5" cy="551.5" r="1.7"/><circle cx="778.5" cy="508.5" r="1.7"/><circle cx="780.5" cy="531.5" r="1.7"/><circle cx="781.5" cy="544.5" r="1.7"/><circle cx="783.5" cy="540.5" r="1.7"/><circle cx="785.5" cy="525.5" r="1.7"/><circle cx="786.5" cy="547.5" r="1.7"/><circle cx="787.5" cy="506.5" r="1.7"/><circle cx="788.5" cy="521.5" r="1.7"/><circle cx="795.5" cy="540.5" r="1.7"/><circle cx="796.5" cy="560.5" r="1.7"/><circle cx="799.5" cy="579.5" r="1.7"/><circle cx="800.5" cy="578.5" r="1.7"/><circle cx="801.5" cy="583.5" r="1.7"/><circle cx="803.5" cy="569.5" r="1.7"/><circle cx="805.5" cy="594.5" r="1.7"/><circle cx="807.5" cy="574.5" r="1.7"/><circle cx="802.5" cy="630.5" r="1.7"/><circle cx="811.5" cy="588.5" r="1.7"/><circle cx="812.5" cy="551.5" r="1.7"/><circle cx="815.5" cy="560.5" r="1.7"/><circle cx="816.5" cy="571.5" r="1.7"/><circle cx="817.5" cy="569.5" r="1.7"/><circle cx="819.5" cy="544.5" r="1.7"/><circle cx="820.5" cy="561.5" r="1.7"/><circle cx="822.5" cy="512.5" r="1.7"/><circle cx="824.5" cy="537.5" r="1.7"/><circle cx="825.5" cy="547.5" r="1.7"/><circle cx="827.5" cy="539.5" r="1.7"/><circle cx="828.5" cy="541.5" r="1.7"/><circle cx="829.5" cy="532.5" r="1.7"/><circle cx="830.5" cy="539.5" r="1.7"/><circle cx="831.5" cy="534.5" r="1.7"/><circle cx="840.5" cy="516.5" r="1.7"/><circle cx="841.5" cy="507.5" r="1.7"/><circle cx="842.5" cy="526.5" r="1.7"/><circle cx="843.5" cy="524.5" r="1.7"/><circle cx="844.5" cy="539.5" r="1.7"/><circle cx="858.5" cy="579.5" r="1.7"/><circle cx="860.5" cy="587.5" r="1.7"/><circle cx="861.5" cy="595.5" r="1.7"/><circle cx="864.5" cy="590.5" r="1.7"/><circle cx="870.5" cy="594.5" r="1.7"/><circle cx="872.5" cy="561.5" r="1.7"/><circle cx="877.5" cy="512.5" r="1.7"/><circle cx="880.5" cy="538.5" r="1.7"/><circle cx="881.5" cy="537.5" r="1.7"/><circle cx="886.5" cy="531.5" r="1.7"/><circle cx="887.5" cy="522.5" r="1.7"/><circle cx="888.5" cy="504.5" r="1.7"/><circle cx="889.5" cy="496.5" r="1.7"/><circle cx="891.5" cy="505.5" r="1.7"/><circle cx="892.5" cy="494.5" r="1.7"/><circle cx="894.5" cy="513.5" r="1.7"/><circle cx="896.5" cy="494.5" r="1.7"/><circle cx="898.5" cy="489.5" r="1.7"/><circle cx="900.5" cy="495.5" r="1.7"/><circle cx="902.5" cy="506.5" r="1.7"/><circle cx="905.5" cy="510.5" r="1.7"/><circle cx="907.5" cy="512.5" r="1.7"/><circle cx="910.5" cy="513.5" r="1.7"/><circle cx="914.5" cy="534.5" r="1.7"/><circle cx="911.5" cy="562.5" r="1.7"/><circle cx="913.5" cy="558.5" r="1.7"/><circle cx="916.5" cy="550.5" r="1.7"/><circle cx="919.5" cy="547.5" r="1.7"/><circle cx="920.5" cy="580.5" r="1.7"/><circle cx="922.5" cy="558.5" r="1.7"/><circle cx="925.5" cy="557.5" r="1.7"/><circle cx="926.5" cy="540.5" r="1.7"/><circle cx="928.5" cy="540.5" r="1.7"/><circle cx="938.5" cy="515.5" r="1.7"/><circle cx="939.5" cy="483.5" r="1.7"/><circle cx="940.5" cy="491.5" r="1.7"/><circle cx="941.5" cy="489.5" r="1.7"/><circle cx="945.5" cy="489.5" r="1.7"/><circle cx="954.5" cy="479.5" r="1.7"/><circle cx="955.5" cy="492.5" r="1.7"/><circle cx="956.5" cy="470.5" r="1.7"/><circle cx="958.5" cy="467.5" r="1.7"/><circle cx="960.5" cy="472.5" r="1.7"/><circle cx="964.5" cy="501.5" r="1.7"/><circle cx="965.5" cy="485.5" r="1.7"/><circle cx="966.5" cy="488.5" r="1.7"/><circle cx="968.5" cy="518.5" r="1.7"/><circle cx="967.5" cy="539.5" r="1.7"/><circle cx="974.5" cy="534.5" r="1.7"/><circle cx="975.5" cy="560.5" r="1.7"/><circle cx="972.5" cy="571.5" r="1.7"/><circle cx="976.5" cy="579.5" r="1.7"/><circle cx="978.5" cy="607.5" r="1.7"/><circle cx="981.5" cy="527.5" r="1.7"/><circle cx="983.5" cy="527.5" r="1.7"/><circle cx="982.5" cy="508.5" r="1.7"/><circle cx="987.5" cy="515.5" r="1.7"/><circle cx="988.5" cy="502.5" r="1.7"/><circle cx="991.5" cy="478.5" r="1.7"/><circle cx="992.5" cy="496.5" r="1.7"/><circle cx="993.5" cy="497.5" r="1.7"/><circle cx="1002.5" cy="469.5" r="1.7"/><circle cx="1003.5" cy="481.5" r="1.7"/><circle cx="1004.5" cy="472.5" r="1.7"/><circle cx="1006.5" cy="468.5" r="1.7"/><circle cx="1008.5" cy="446.5" r="1.7"/><circle cx="1009.5" cy="471.5" r="1.7"/><circle cx="1011.5" cy="476.5" r="1.7"/><circle cx="1012.5" cy="474.5" r="1.7"/><circle cx="1014.5" cy="491.5" r="1.7"/><circle cx="1016.5" cy="459.5" r="1.7"/><circle cx="1018.5" cy="477.5" r="1.7"/><circle cx="1022.5" cy="476.5" r="1.7"/><circle cx="1024.5" cy="512.5" r="1.7"/><circle cx="1025.5" cy="521.5" r="1.7"/><circle cx="1029.5" cy="536.5" r="1.7"/><circle cx="1034.5" cy="537.5" r="1.7"/><circle cx="1031.5" cy="557.5" r="1.7"/><circle cx="1032.5" cy="501.5" r="1.7"/><circle cx="1036.5" cy="494.5" r="1.7"/><circle cx="1037.5" cy="497.5" r="1.7"/><circle cx="1039.5" cy="496.5" r="1.7"/><circle cx="1040.5" cy="501.5" r="1.7"/><circle cx="1038.5" cy="511.5" r="1.7"/><circle cx="1041.5" cy="508.5" r="1.7"/><circle cx="1044.5" cy="477.5" r="1.7"/><circle cx="1046.5" cy="486.5" r="1.7"/><circle cx="1048.5" cy="435.5" r="1.7"/><circle cx="1049.5" cy="458.5" r="1.7"/><circle cx="1050.5" cy="458.5" r="1.7"/><circle cx="1190.5" cy="434.5" r="1.7"/><circle cx="1192.5" cy="436.5" r="1.7"/><circle cx="1194.5" cy="447.5" r="1.7"/><circle cx="1195.5" cy="470.5" r="1.7"/><circle cx="1198.5" cy="480.5" r="1.7"/><circle cx="1197.5" cy="486.5" r="1.7"/><circle cx="1201.5" cy="501.5" r="1.7"/><circle cx="1203.5" cy="468.5" r="1.7"/><circle cx="1205.5" cy="463.5" r="1.7"/><circle cx="1208.5" cy="429.5" r="1.7"/><circle cx="1211.5" cy="428.5" r="1.7"/><circle cx="1212.5" cy="435.5" r="1.7"/><circle cx="1213.5" cy="444.5" r="1.7"/><circle cx="1215.5" cy="433.5" r="1.7"/><circle cx="1216.5" cy="403.5" r="1.7"/><circle cx="1217.5" cy="396.5" r="1.7"/><circle cx="1218.5" cy="408.5" r="1.7"/><circle cx="1220.5" cy="409.5" r="1.7"/><circle cx="1219.5" cy="417.5" r="1.7"/><circle cx="1225.5" cy="360.5" r="1.7"/><circle cx="1234.5" cy="376.5" r="1.7"/><circle cx="1235.5" cy="391.5" r="1.7"/><circle cx="1233.5" cy="395.5" r="1.7"/><circle cx="1236.5" cy="400.5" r="1.7"/><circle cx="1232.5" cy="416.5" r="1.7"/><circle cx="1243.5" cy="394.5" r="1.7"/><circle cx="1240.5" cy="447.5" r="1.7"/><circle cx="1247.5" cy="443.5" r="1.7"/><circle cx="1249.5" cy="464.5" r="1.7"/><circle cx="1252.5" cy="469.5" r="1.7"/><circle cx="1254.5" cy="471.5" r="1.7"/><circle cx="1253.5" cy="455.5" r="1.7"/></g><path d="M307.6 689.53 L341.4 681.12 L375.2 672.62 L409.1 664.03 L442.9 655.35 L476.7 646.58 L510.5 637.72 L544.4 628.77 L578.2 619.73 L612.0 610.60 L645.8 601.38 L679.6 592.07 L713.5 582.67 L747.3 573.18 L781.1 563.60 L814.9 553.94 L848.8 544.18 L882.6 534.33 L916.4 524.39 L950.2 514.37 L984.1 504.25 L1017.9 494.04 L1051.7 483.75 L1085.5 473.36 L1119.3 462.88 L1153.2 452.32 L1187.0 441.66 L1220.8 430.92 L1254.6 420.08 L1288.5 409.16 L1322.3 398.14 L1356.1 387.04 L1389.9 375.85 L1423.7 364.56 L1457.6 353.19 L1491.4 341.72 L1525.2 330.17 L1559.0 318.53 L1592.9 306.79 L1626.7 294.97 L1660.5 283.06" stroke="#ff0000" stroke-width="1.45" fill="none" stroke-linecap="round"/><rect x="240.5" y="116.5" width="1488" height="742" stroke="#000" stroke-width="1.1" fill="none"/><path d="M492.5 858V863.6M771.5 858V863.6M1051.5 858V863.6M1331.5 858V863.6M1611.5 858V863.6M240 190.5H235.1M240 338.5H235.1M240 487.5H235.1M240 635.5H235.1M240 784.5H235.1" stroke="#000" stroke-width="1.1" fill="none"/><text x="491.6" y="879" font-family="Liberation Sans, sans-serif" font-size="14.72" text-anchor="middle" textLength="36" lengthAdjust="spacingAndGlyphs">2005</text><text x="770.6" y="879" font-family="Liberation Sans, sans-serif" font-size="14.72" text-anchor="middle" textLength="36" lengthAdjust="spacingAndGlyphs">2010</text><text x="1050.6" y="879" font-family="Liberation Sans, sans-serif" font-size="14.72" text-anchor="middle" textLength="36" lengthAdjust="spacingAndGlyphs">2015</text><text x="1330.6" y="879" font-family="Liberation Sans, sans-serif" font-size="14.72" text-anchor="middle" textLength="36" lengthAdjust="spacingAndGlyphs">2020</text><text x="1610.6" y="879" font-family="Liberation Sans, sans-serif" font-size="14.72" text-anchor="middle" textLength="36" lengthAdjust="spacingAndGlyphs">2025</text><text x="229.4" y="194.5" font-family="Liberation Sans, sans-serif" font-size="14.72" text-anchor="end" textLength="25" lengthAdjust="spacingAndGlyphs">440</text><text x="229.4" y="342.5" font-family="Liberation Sans, sans-serif" font-size="14.72" text-anchor="end" textLength="25" lengthAdjust="spacingAndGlyphs">420</text><text x="229.4" y="491.5" font-family="Liberation Sans, sans-serif" font-size="14.72" text-anchor="end" textLength="25" lengthAdjust="spacingAndGlyphs">400</text><text x="229.4" y="639.5" font-family="Liberation Sans, sans-serif" font-size="14.72" text-anchor="end" textLength="25" lengthAdjust="spacingAndGlyphs">380</text><text x="229.4" y="788.5" font-family="Liberation Sans, sans-serif" font-size="14.72" text-anchor="end" textLength="25" lengthAdjust="spacingAndGlyphs">360</text><text x="984.5" y="898" font-family="Liberation Sans, sans-serif" font-size="14.72" text-anchor="middle" textLength="31" lengthAdjust="spacingAndGlyphs">Date</text><text transform="translate(194,488) rotate(-90)" font-family="Liberation Sans, sans-serif" font-size="14.72" text-anchor="middle" textLength="73.4" lengthAdjust="spacingAndGlyphs">CO2 (ppm)</text><text x="686" y="88.8" font-family="Liberation Sans, sans-serif" font-size="17.2" textLength="596" lengthAdjust="spacingAndGlyphs">Mesure des gaz à effet de serre au Pic du Midi de Bigorre (ICOS-France)</text><text x="766.5" y="107.6" font-family="Liberation Sans, sans-serif" font-size="17.2" textLength="440.5" lengthAdjust="spacingAndGlyphs">Laboratoire d'aérologie - Observatoire Midi-Pyrénées</text><rect x="247.5" y="123.5" width="279" height="67" rx="2.8" fill="#fff" fill-opacity="0.8" stroke="#cccccc" stroke-width="1.1"/><use href="#gm" x="266.5" y="134.5" fill="#008000" fill-opacity="0.8"/><circle cx="266.5" cy="155.5" r="1.7" fill="#0000ff"/><path d="M252.8 176.4H280.9" stroke="#ff0000" stroke-width="1.45"/><text x="291.7" y="138.8" font-family="Liberation Sans, sans-serif" font-size="14.72" textLength="215" lengthAdjust="spacingAndGlyphs">analyseur continu depuis 2016</text><text x="291.7" y="159.8" font-family="Liberation Sans, sans-serif" font-size="14.72" textLength="229.5" lengthAdjust="spacingAndGlyphs">relevé hebdomadaire 2001-2018</text><text x="291.7" y="180.6" font-family="Liberation Sans, sans-serif" font-size="14.72" textLength="65.5" lengthAdjust="spacingAndGlyphs">tendance</text></svg></body></html>
